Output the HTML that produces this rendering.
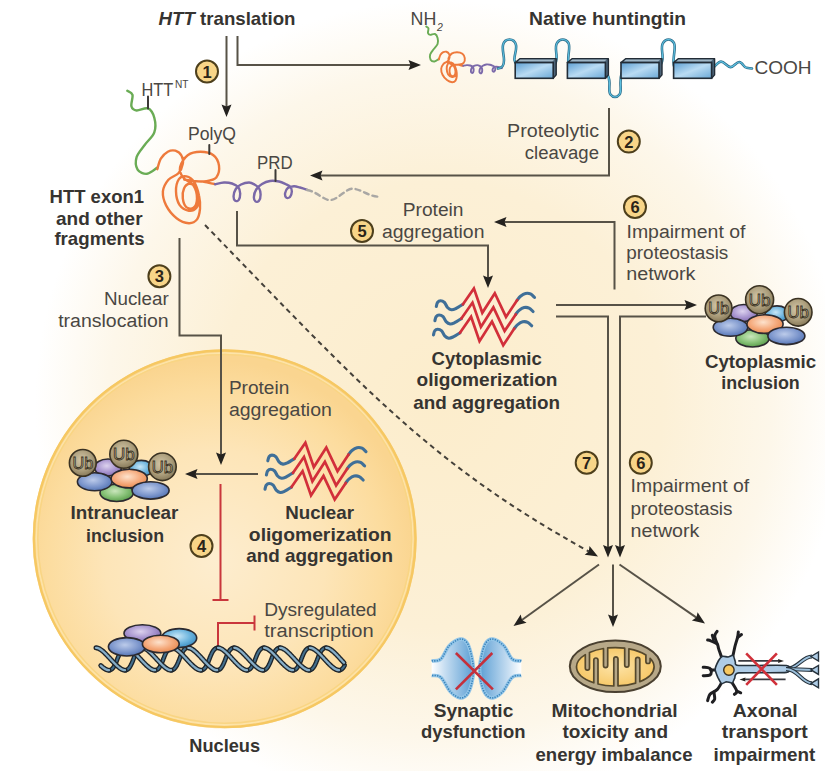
<!DOCTYPE html>
<html><head><meta charset="utf-8">
<style>
html,body{margin:0;padding:0;background:#fff;}
svg{display:block;}
text{font-family:"Liberation Sans",sans-serif;}
.b{font-weight:bold;fill:#363431;font-size:19px;}
.r{fill:#4a4743;font-size:19.2px;}
.num{font-weight:bold;fill:#2a2418;font-size:16.5px;text-anchor:middle;}
</style></head><body>
<svg width="825" height="771" viewBox="0 0 825 771">
<defs>
  <radialGradient id="bg" cx="440" cy="405" r="405" gradientUnits="userSpaceOnUse">
    <stop offset="0" stop-color="#fcedcc"/>
    <stop offset="0.55" stop-color="#fcf0d6"/>
    <stop offset="0.82" stop-color="#fdf7ea"/>
    <stop offset="1" stop-color="#ffffff"/>
  </radialGradient>
  <radialGradient id="nuc" cx="215" cy="560" r="200" gradientUnits="userSpaceOnUse">
    <stop offset="0" stop-color="#fdedcf"/>
    <stop offset="0.55" stop-color="#fde5b8"/>
    <stop offset="0.85" stop-color="#fcdc9e"/>
    <stop offset="1" stop-color="#fad590"/>
  </radialGradient>
</defs>
<rect width="825" height="771" fill="url(#bg)"/>
<ellipse cx="224.7" cy="538.8" rx="192" ry="189.5" fill="url(#nuc)"/>
<ellipse cx="224.7" cy="538.8" rx="190.8" ry="188.3" fill="none" stroke="#f6c862" stroke-width="2.4"/>
<ellipse cx="224.7" cy="538.8" rx="188.3" ry="185.8" fill="none" stroke="#fde4a8" stroke-width="1.3"/>
<ellipse cx="224.7" cy="538.8" rx="186.9" ry="184.4" fill="none" stroke="#f9d584" stroke-width="1.5"/>
<path d="M226.5,36.0 L226.5,107.5" fill="none" stroke="#575247" stroke-width="2"/><path d="M226.5,117.0 L221.5,104.5 L226.5,106.5 L231.5,104.5z" fill="#24221f"/>
<path d="M237.5,36.0 L237.5,65.0 L411.5,65.0" fill="none" stroke="#575247" stroke-width="2"/><path d="M421.0,65.0 L408.5,70.0 L410.5,65.0 L408.5,60.0z" fill="#24221f"/>
<path d="M609.0,108.0 L609.0,175.5 L319.5,175.5" fill="none" stroke="#575247" stroke-width="2"/><path d="M310.0,175.5 L322.5,170.5 L320.5,175.5 L322.5,180.5z" fill="#24221f"/>
<path d="M237.0,211.0 L237.0,245.5 L488.0,245.5 L488.0,278.5" fill="none" stroke="#575247" stroke-width="2"/><path d="M488.0,288.0 L483.0,275.5 L488.0,277.5 L493.0,275.5z" fill="#24221f"/>
<path d="M614.5,289.5 L614.5,222.0 L503.5,222.0" fill="none" stroke="#575247" stroke-width="2"/><path d="M494.0,222.0 L506.5,217.0 L504.5,222.0 L506.5,227.0z" fill="#24221f"/>
<path d="M556.0,305.0 L687.5,305.0" fill="none" stroke="#575247" stroke-width="2"/><path d="M697.0,305.0 L684.5,310.0 L686.5,305.0 L684.5,300.0z" fill="#24221f"/>
<path d="M556.0,316.5 L608.0,316.5 L608.0,548.0" fill="none" stroke="#575247" stroke-width="2"/><path d="M608.0,557.5 L603.0,545.0 L608.0,547.0 L613.0,545.0z" fill="#24221f"/>
<path d="M706.0,316.5 L620.0,316.5 L620.0,548.0" fill="none" stroke="#575247" stroke-width="2"/><path d="M620.0,557.5 L615.0,545.0 L620.0,547.0 L625.0,545.0z" fill="#24221f"/>
<path d="M179.5,238.0 L179.5,335.5 L221.0,335.5 L221.0,455.5" fill="none" stroke="#575247" stroke-width="2"/><path d="M221.0,465.0 L216.0,452.5 L221.0,454.5 L226.0,452.5z" fill="#24221f"/>
<path d="M258.0,474.0 L194.5,474.0" fill="none" stroke="#575247" stroke-width="2"/><path d="M185.0,474.0 L197.5,469.0 L195.5,474.0 L197.5,479.0z" fill="#24221f"/>
<path d="M599.0,564.5 L521.2,620.5" fill="none" stroke="#575247" stroke-width="2"/><path d="M513.5,626.0 L520.7,614.6 L522.0,619.9 L526.6,622.8z" fill="#24221f"/>
<path d="M613.0,564.5 L613.0,617.5" fill="none" stroke="#575247" stroke-width="2"/><path d="M613.0,627.0 L608.0,614.5 L613.0,616.5 L618.0,614.5z" fill="#24221f"/>
<path d="M619.5,564.5 L697.2,618.1" fill="none" stroke="#575247" stroke-width="2"/><path d="M705.0,623.5 L691.9,620.5 L696.4,617.5 L697.6,612.3z" fill="#24221f"/>
<path d="M205,225 C365,389.8 432,465 589,551.5" fill="none" stroke="#45413a" stroke-width="2" stroke-dasharray="5 4"/>
<path d="M598.0,556.5 L584.7,554.8 L588.8,551.4 L589.5,546.0z" fill="#24221f"/>
<g stroke="#c9363c" stroke-width="2" fill="none"><path d="M220.5,484 V600 M212.5,600 H228.5"/><path d="M218,647 V623 H254.5 M254.5,615.5 V630.5"/></g>
<g transform="translate(207,71.5)"><circle r="11" fill="#f8d588" stroke="#4d3f1c" stroke-width="2"/><text class="num" y="6">1</text></g>
<g transform="translate(628.8,141.6)"><circle r="11" fill="#f8d588" stroke="#4d3f1c" stroke-width="2"/><text class="num" y="6">2</text></g>
<g transform="translate(159.4,276.2)"><circle r="11" fill="#f8d588" stroke="#4d3f1c" stroke-width="2"/><text class="num" y="6">3</text></g>
<g transform="translate(201.5,546)"><circle r="11" fill="#f8d588" stroke="#4d3f1c" stroke-width="2"/><text class="num" y="6">4</text></g>
<g transform="translate(362,231)"><circle r="11" fill="#f8d588" stroke="#4d3f1c" stroke-width="2"/><text class="num" y="6">5</text></g>
<g transform="translate(635,207)"><circle r="11" fill="#f8d588" stroke="#4d3f1c" stroke-width="2"/><text class="num" y="6">6</text></g>
<g transform="translate(640.8,462.7)"><circle r="11" fill="#f8d588" stroke="#4d3f1c" stroke-width="2"/><text class="num" y="6">6</text></g>
<g transform="translate(586.7,462.7)"><circle r="11" fill="#f8d588" stroke="#4d3f1c" stroke-width="2"/><text class="num" y="6">7</text></g>
<defs>
<radialGradient id="gPur" cx="0.45" cy="0.4" r="0.6"><stop offset="0" stop-color="#dcd2ee"/><stop offset="0.6" stop-color="#a996d0"/><stop offset="1" stop-color="#8670b4"/></radialGradient>
<radialGradient id="gCy" cx="0.45" cy="0.4" r="0.6"><stop offset="0" stop-color="#c8e6f6"/><stop offset="0.6" stop-color="#6cb4de"/><stop offset="1" stop-color="#3f90c4"/></radialGradient>
<radialGradient id="gOr" cx="0.45" cy="0.4" r="0.6"><stop offset="0" stop-color="#fde2cc"/><stop offset="0.6" stop-color="#f5ab7e"/><stop offset="1" stop-color="#ea8c52"/></radialGradient>
<radialGradient id="gBl" cx="0.45" cy="0.4" r="0.6"><stop offset="0" stop-color="#bccbea"/><stop offset="0.6" stop-color="#8099ce"/><stop offset="1" stop-color="#5676b6"/></radialGradient>
<radialGradient id="gGr" cx="0.45" cy="0.4" r="0.6"><stop offset="0" stop-color="#cae6bc"/><stop offset="0.6" stop-color="#86c176"/><stop offset="1" stop-color="#5c9e4e"/></radialGradient>
<radialGradient id="gUb" cx="0.45" cy="0.4" r="0.6"><stop offset="0" stop-color="#d2c6a8"/><stop offset="0.65" stop-color="#ab9d7b"/><stop offset="1" stop-color="#887a5a"/></radialGradient>
<linearGradient id="gBox" x1="0" y1="0" x2="1" y2="1"><stop offset="0" stop-color="#5d9fd2"/><stop offset="0.5" stop-color="#b9dbf3"/><stop offset="1" stop-color="#6aa8d6"/></linearGradient>
<linearGradient id="gDNA" x1="0" y1="0" x2="0" y2="1"><stop offset="0" stop-color="#9cc4dc"/><stop offset="1" stop-color="#5b8eae"/></linearGradient>
</defs>
<g><ellipse cx="743.8" cy="313.0" rx="13.5" ry="8.5" fill="url(#gPur)" stroke="#2c2a30" stroke-width="1.6"/><ellipse cx="777.0" cy="313.9" rx="12" ry="8" fill="url(#gCy)" stroke="#2c2a30" stroke-width="1.6"/><ellipse cx="752.5" cy="338.3" rx="16.7" ry="8.7" fill="url(#gGr)" stroke="#2c2a30" stroke-width="1.6"/><ellipse cx="730.5" cy="327.3" rx="17.3" ry="9" fill="url(#gBl)" stroke="#2c2a30" stroke-width="1.6"/><ellipse cx="765.0" cy="324.1" rx="18.1" ry="9.3" fill="url(#gOr)" stroke="#2c2a30" stroke-width="1.6"/><ellipse cx="786.4" cy="335.9" rx="18.5" ry="8.7" fill="url(#gBl)" stroke="#2c2a30" stroke-width="1.6"/><circle cx="718.6" cy="308.4" r="13.4" fill="url(#gUb)" stroke="#3a3222" stroke-width="1.6"/><text x="718.6" y="314.2" text-anchor="middle" font-size="16.5" fill="#cdc2a4" stroke="#3a3222" stroke-width="0.85" font-family="Liberation Sans" textLength="20.8" lengthAdjust="spacingAndGlyphs">Ub</text><circle cx="759.6" cy="299.7" r="14" fill="url(#gUb)" stroke="#3a3222" stroke-width="1.6"/><text x="759.6" y="305.5" text-anchor="middle" font-size="16.5" fill="#cdc2a4" stroke="#3a3222" stroke-width="0.85" font-family="Liberation Sans" textLength="21.7" lengthAdjust="spacingAndGlyphs">Ub</text><circle cx="798.2" cy="312.3" r="13.8" fill="url(#gUb)" stroke="#3a3222" stroke-width="1.6"/><text x="798.2" y="318.1" text-anchor="middle" font-size="16.5" fill="#cdc2a4" stroke="#3a3222" stroke-width="0.85" font-family="Liberation Sans" textLength="21.4" lengthAdjust="spacingAndGlyphs">Ub</text></g>
<g><ellipse cx="108.0" cy="467.5" rx="13.5" ry="8.5" fill="url(#gPur)" stroke="#2c2a30" stroke-width="1.6"/><ellipse cx="141.2" cy="468.4" rx="12" ry="8" fill="url(#gCy)" stroke="#2c2a30" stroke-width="1.6"/><ellipse cx="116.7" cy="492.8" rx="16.7" ry="8.7" fill="url(#gGr)" stroke="#2c2a30" stroke-width="1.6"/><ellipse cx="94.7" cy="481.8" rx="17.3" ry="9" fill="url(#gBl)" stroke="#2c2a30" stroke-width="1.6"/><ellipse cx="129.2" cy="478.6" rx="18.1" ry="9.3" fill="url(#gOr)" stroke="#2c2a30" stroke-width="1.6"/><ellipse cx="150.6" cy="490.4" rx="18.5" ry="8.7" fill="url(#gBl)" stroke="#2c2a30" stroke-width="1.6"/><circle cx="82.8" cy="462.9" r="13.4" fill="url(#gUb)" stroke="#3a3222" stroke-width="1.6"/><text x="82.8" y="468.7" text-anchor="middle" font-size="16.5" fill="#cdc2a4" stroke="#3a3222" stroke-width="0.85" font-family="Liberation Sans" textLength="20.8" lengthAdjust="spacingAndGlyphs">Ub</text><circle cx="123.8" cy="454.2" r="14" fill="url(#gUb)" stroke="#3a3222" stroke-width="1.6"/><text x="123.8" y="460.0" text-anchor="middle" font-size="16.5" fill="#cdc2a4" stroke="#3a3222" stroke-width="0.85" font-family="Liberation Sans" textLength="21.7" lengthAdjust="spacingAndGlyphs">Ub</text><circle cx="162.4" cy="466.8" r="13.8" fill="url(#gUb)" stroke="#3a3222" stroke-width="1.6"/><text x="162.4" y="472.6" text-anchor="middle" font-size="16.5" fill="#cdc2a4" stroke="#3a3222" stroke-width="0.85" font-family="Liberation Sans" textLength="21.4" lengthAdjust="spacingAndGlyphs">Ub</text></g>
<g fill="none" stroke-linecap="round" stroke-linejoin="miter"><path d="M436.3,306.5 C436.5,305.8 436.8,303.4 437.5,302.5 C438.2,301.6 439.3,300.8 440.5,300.8 C441.7,300.8 443.3,301.4 444.5,302.5 C445.7,303.6 446.3,306.3 447.5,307.5 C448.7,308.7 450.1,309.6 451.5,309.8 C452.9,310.0 454.1,309.4 456.0,308.5 C457.9,307.6 461.7,305.1 462.8,304.4" stroke="#3f6f98" stroke-width="3.1"/><path d="M517.1,300.2 C517.7,299.5 519.1,297.3 520.5,296.2 C521.9,295.1 523.8,293.8 525.5,293.4 C527.2,293.0 529.0,293.2 530.5,293.9 C532.0,294.6 533.8,296.8 534.5,297.4" stroke="#3f6f98" stroke-width="3.1"/><path d="M462.8,304.4 L473.9,288.4 L482.3,312.8 L494.8,293.2 L506.0,316.9 L517.1,300.2" stroke="#d22f3a" stroke-width="2.7"/><path d="M434.9,320.7 C435.1,320.0 435.4,317.6 436.1,316.7 C436.8,315.8 437.9,315.0 439.1,315.0 C440.3,315.0 441.9,315.6 443.1,316.7 C444.3,317.8 444.9,320.5 446.1,321.7 C447.3,322.9 448.7,323.8 450.1,324.0 C451.5,324.2 452.7,323.6 454.6,322.7 C456.5,321.8 460.3,319.3 461.4,318.6" stroke="#3f6f98" stroke-width="3.1"/><path d="M515.7,314.4 C516.3,313.7 517.7,311.5 519.1,310.4 C520.5,309.3 522.4,308.0 524.1,307.6 C525.8,307.2 527.6,307.4 529.1,308.1 C530.6,308.8 532.4,311.0 533.1,311.6" stroke="#3f6f98" stroke-width="3.1"/><path d="M461.4,318.6 L472.5,302.6 L480.9,327.0 L493.4,307.4 L504.6,331.1 L515.7,314.4" stroke="#d22f3a" stroke-width="2.7"/><path d="M433.5,334.9 C433.7,334.2 434.0,331.8 434.7,330.9 C435.4,329.9 436.5,329.2 437.7,329.2 C438.9,329.2 440.5,329.8 441.7,330.9 C442.9,332.0 443.5,334.7 444.7,335.9 C445.9,337.1 447.3,338.0 448.7,338.2 C450.1,338.4 451.3,337.8 453.2,336.9 C455.1,336.0 458.9,333.5 460.0,332.8" stroke="#3f6f98" stroke-width="3.1"/><path d="M514.3,328.6 C514.9,327.9 516.3,325.7 517.7,324.6 C519.1,323.5 521.0,322.2 522.7,321.8 C524.4,321.4 526.2,321.6 527.7,322.3 C529.2,323.0 531.0,325.2 531.7,325.8" stroke="#3f6f98" stroke-width="3.1"/><path d="M460.0,332.8 L471.1,316.8 L479.5,341.2 L492.0,321.6 L503.2,345.3 L514.3,328.6" stroke="#d22f3a" stroke-width="2.7"/></g>
<g fill="none" stroke-linecap="round" stroke-linejoin="miter"><path d="M267.8,460.8 C268.0,460.1 268.3,457.8 269.0,456.8 C269.7,455.9 270.8,455.1 272.0,455.1 C273.2,455.1 274.8,455.7 276.0,456.8 C277.2,457.9 277.8,460.6 279.0,461.8 C280.2,463.0 281.6,463.9 283.0,464.1 C284.4,464.3 285.6,463.7 287.5,462.8 C289.4,461.9 293.2,459.4 294.3,458.7" stroke="#3f6f98" stroke-width="3.1"/><path d="M348.6,454.5 C349.2,453.8 350.6,451.6 352.0,450.5 C353.4,449.4 355.3,448.1 357.0,447.7 C358.7,447.3 360.5,447.5 362.0,448.2 C363.5,448.9 365.3,451.1 366.0,451.7" stroke="#3f6f98" stroke-width="3.1"/><path d="M294.3,458.7 L305.4,442.7 L313.8,467.1 L326.3,447.5 L337.5,471.2 L348.6,454.5" stroke="#d22f3a" stroke-width="2.7"/><path d="M266.4,475.0 C266.6,474.3 266.9,471.9 267.6,471.0 C268.3,470.1 269.4,469.3 270.6,469.3 C271.8,469.3 273.4,469.9 274.6,471.0 C275.8,472.1 276.4,474.8 277.6,476.0 C278.8,477.2 280.2,478.1 281.6,478.3 C283.0,478.5 284.2,477.9 286.1,477.0 C288.0,476.1 291.8,473.6 292.9,472.9" stroke="#3f6f98" stroke-width="3.1"/><path d="M347.2,468.7 C347.8,468.0 349.2,465.8 350.6,464.7 C352.0,463.6 353.9,462.3 355.6,461.9 C357.3,461.5 359.1,461.7 360.6,462.4 C362.1,463.1 363.9,465.3 364.6,465.9" stroke="#3f6f98" stroke-width="3.1"/><path d="M292.9,472.9 L304.0,456.9 L312.4,481.3 L324.9,461.7 L336.1,485.4 L347.2,468.7" stroke="#d22f3a" stroke-width="2.7"/><path d="M265.0,489.2 C265.2,488.5 265.5,486.2 266.2,485.2 C266.9,484.3 268.0,483.5 269.2,483.5 C270.4,483.5 272.0,484.1 273.2,485.2 C274.4,486.3 275.0,489.0 276.2,490.2 C277.4,491.4 278.8,492.3 280.2,492.5 C281.6,492.7 282.8,492.1 284.7,491.2 C286.6,490.3 290.4,487.8 291.5,487.1" stroke="#3f6f98" stroke-width="3.1"/><path d="M345.8,482.9 C346.4,482.2 347.8,480.0 349.2,478.9 C350.6,477.8 352.5,476.5 354.2,476.1 C355.9,475.7 357.7,475.9 359.2,476.6 C360.7,477.3 362.5,479.5 363.2,480.1" stroke="#3f6f98" stroke-width="3.1"/><path d="M291.5,487.1 L302.6,471.1 L311.0,495.5 L323.5,475.9 L334.7,499.6 L345.8,482.9" stroke="#d22f3a" stroke-width="2.7"/></g>
<g fill="none" stroke-linecap="round" stroke-linejoin="round">
<path d="M127.3,90.8 C128.2,91.5 131.8,92.3 132.5,94.9 C133.2,97.5 130.7,103.7 131.4,106.3 C132.1,108.9 133.8,110.2 136.6,110.5 C139.4,110.8 145.1,107.2 148.0,108.4 C150.9,109.6 153.2,113.7 154.3,117.7 C155.4,121.7 155.9,127.8 154.3,132.3 C152.7,136.8 147.9,140.5 144.9,144.7 C141.9,148.8 137.8,153.0 136.6,157.2 C135.4,161.3 135.9,166.8 137.6,169.6 C139.3,172.4 143.7,174.1 147.0,173.8 C150.3,173.5 155.7,168.6 157.4,167.6" stroke="#6aac55" stroke-width="2.4"/>
<path d="M157.3,169.2 C157.9,167.4 159.1,161.6 160.8,158.7 C162.6,155.8 165.4,153.0 167.8,151.7 C170.3,150.4 173.1,150.1 175.4,150.7 C177.7,151.4 180.4,153.6 181.6,155.8 C182.9,158.0 183.3,161.0 182.8,163.9 C182.3,166.9 180.8,170.7 178.4,173.3 C176.0,175.9 171.0,176.7 168.4,179.7 C165.9,182.7 163.3,187.1 162.9,191.4 C162.6,195.7 163.8,200.9 166.1,205.4 C168.4,209.9 172.8,215.3 176.6,218.2 C180.4,221.2 185.5,223.0 188.9,223.2 C192.3,223.3 195.2,221.8 197.0,219.4 C198.9,217.0 199.6,212.8 200.0,208.9 C200.3,205.0 200.1,200.5 199.1,196.1 C198.2,191.6 196.2,185.3 194.1,182.0 C192.0,178.8 189.1,176.9 186.5,176.4 C184.0,176.0 180.7,176.6 178.9,179.1 C177.2,181.6 175.9,187.1 176.0,191.4 C176.1,195.7 177.4,201.6 179.5,204.8 C181.7,208.0 186.0,210.2 188.9,210.7 C191.7,211.1 194.7,209.8 196.5,207.7 C198.2,205.7 199.2,201.8 199.1,198.4 C199.0,195.0 197.5,189.7 195.9,187.3 C194.3,184.9 191.4,183.6 189.5,183.8 C187.5,184.0 185.1,186.0 184.0,188.5 C182.9,190.9 182.4,195.3 182.8,198.4 C183.2,201.5 184.5,205.6 186.3,207.2 C188.1,208.7 191.7,209.2 193.5,207.7 C195.3,206.3 197.0,202.1 197.0,198.4 C197.0,194.7 195.9,189.1 193.5,185.5 C191.2,182.0 185.3,180.5 183.0,177.4 C180.8,174.3 179.3,170.6 180.1,166.9 C180.9,163.2 184.3,157.7 187.7,155.2 C191.1,152.7 196.3,151.7 200.5,151.7 C204.8,151.7 210.3,152.8 213.4,155.2 C216.5,157.5 218.5,162.0 219.0,165.7 C219.5,169.4 218.4,174.8 216.3,177.4 C214.2,179.9 210.2,180.5 206.4,181.1 C202.6,181.7 197.2,181.4 193.5,181.1 C189.8,180.8 184.2,179.5 184.2,179.5 C184.2,179.4 190.0,180.4 193.5,180.9 C197.0,181.3 202.3,181.6 205.2,182.0 C208.1,182.5 209.4,183.1 211.1,183.4 C212.7,183.8 214.5,184.0 215.1,184.1" stroke="#ee7a3c" stroke-width="2.4"/>
<path d="M215.2,184.2 C216.7,183.9 221.2,182.6 224.0,182.5 C226.8,182.4 229.6,182.7 232.0,183.5 C234.4,184.3 237.1,185.8 238.5,187.5 C239.9,189.2 240.1,191.4 240.2,193.5 C240.2,195.6 239.6,198.6 238.8,199.8 C238.0,201.0 236.1,201.4 235.2,200.8 C234.3,200.2 233.5,198.0 233.6,196.0 C233.7,194.0 234.6,190.9 235.8,189.0 C237.0,187.1 238.8,185.6 241.0,184.5 C243.2,183.4 246.8,182.5 249.0,182.5 C251.2,182.5 252.8,183.5 254.5,184.5 C256.2,185.5 258.2,186.8 259.2,188.5 C260.2,190.2 260.6,192.4 260.6,194.5 C260.6,196.6 259.9,199.7 259.0,200.8 C258.1,202.0 256.2,202.0 255.4,201.4 C254.6,200.8 253.8,199.0 253.9,197.0 C254.0,195.0 254.8,191.7 256.2,189.5 C257.6,187.3 259.7,185.4 262.0,184.0 C264.3,182.6 267.2,181.4 270.0,181.0 C272.8,180.6 276.4,181.0 279.0,181.5 C281.6,182.0 283.6,183.1 285.5,184.0 C287.4,184.9 289.4,185.7 290.5,187.0 C291.6,188.3 291.9,190.1 291.8,191.8 C291.7,193.5 290.9,196.0 290.0,197.0 C289.1,198.0 287.1,198.2 286.3,197.6 C285.5,197.0 284.9,194.8 285.1,193.2 C285.4,191.6 286.3,189.2 287.8,188.0 C289.3,186.8 292.0,186.3 294.0,186.2 C296.0,186.1 297.8,186.9 300.0,187.5 C302.2,188.1 306.1,189.4 307.3,189.8" stroke="#7a68a8" stroke-width="2.4"/>
<path d="M307,190 C318,192 324,201 331,200 C338,199 346,189 352,188.7 C360,188.5 368,196 378,196.7" stroke="#a9a7a4" stroke-width="2.4" stroke-dasharray="5 4"/>
<path d="M148,96.5 V108.5 M209.3,145 V154 M275.5,170 V181" stroke="#3c3a37" stroke-width="2"/>
</g>
<g transform="translate(372.78,-11.54) scale(0.42)" fill="none" stroke-linecap="round" stroke-linejoin="round">
<path d="M127.3,90.8 C128.2,91.5 131.8,92.3 132.5,94.9 C133.2,97.5 130.7,103.7 131.4,106.3 C132.1,108.9 133.8,110.2 136.6,110.5 C139.4,110.8 145.1,107.2 148.0,108.4 C150.9,109.6 153.2,113.7 154.3,117.7 C155.4,121.7 155.9,127.8 154.3,132.3 C152.7,136.8 147.9,140.5 144.9,144.7 C141.9,148.8 137.8,153.0 136.6,157.2 C135.4,161.3 135.9,166.8 137.6,169.6 C139.3,172.4 143.7,174.1 147.0,173.8 C150.3,173.5 155.7,168.6 157.4,167.6" stroke="#6aac55" stroke-width="4.6"/>
<path d="M157.3,169.2 C157.9,167.4 159.1,161.6 160.8,158.7 C162.6,155.8 165.4,153.0 167.8,151.7 C170.3,150.4 173.1,150.1 175.4,150.7 C177.7,151.4 180.4,153.6 181.6,155.8 C182.9,158.0 183.3,161.0 182.8,163.9 C182.3,166.9 180.8,170.7 178.4,173.3 C176.0,175.9 171.0,176.7 168.4,179.7 C165.9,182.7 163.3,187.1 162.9,191.4 C162.6,195.7 163.8,200.9 166.1,205.4 C168.4,209.9 172.8,215.3 176.6,218.2 C180.4,221.2 185.5,223.0 188.9,223.2 C192.3,223.3 195.2,221.8 197.0,219.4 C198.9,217.0 199.6,212.8 200.0,208.9 C200.3,205.0 200.1,200.5 199.1,196.1 C198.2,191.6 196.2,185.3 194.1,182.0 C192.0,178.8 189.1,176.9 186.5,176.4 C184.0,176.0 180.7,176.6 178.9,179.1 C177.2,181.6 175.9,187.1 176.0,191.4 C176.1,195.7 177.4,201.6 179.5,204.8 C181.7,208.0 186.0,210.2 188.9,210.7 C191.7,211.1 194.7,209.8 196.5,207.7 C198.2,205.7 199.2,201.8 199.1,198.4 C199.0,195.0 197.5,189.7 195.9,187.3 C194.3,184.9 191.4,183.6 189.5,183.8 C187.5,184.0 185.1,186.0 184.0,188.5 C182.9,190.9 182.4,195.3 182.8,198.4 C183.2,201.5 184.5,205.6 186.3,207.2 C188.1,208.7 191.7,209.2 193.5,207.7 C195.3,206.3 197.0,202.1 197.0,198.4 C197.0,194.7 195.9,189.1 193.5,185.5 C191.2,182.0 185.3,180.5 183.0,177.4 C180.8,174.3 179.3,170.6 180.1,166.9 C180.9,163.2 184.3,157.7 187.7,155.2 C191.1,152.7 196.3,151.7 200.5,151.7 C204.8,151.7 210.3,152.8 213.4,155.2 C216.5,157.5 218.5,162.0 219.0,165.7 C219.5,169.4 218.4,174.8 216.3,177.4 C214.2,179.9 210.2,180.5 206.4,181.1 C202.6,181.7 197.2,181.4 193.5,181.1 C189.8,180.8 184.2,179.5 184.2,179.5 C184.2,179.4 190.0,180.4 193.5,180.9 C197.0,181.3 202.3,181.6 205.2,182.0 C208.1,182.5 209.4,183.1 211.1,183.4 C212.7,183.8 214.5,184.0 215.1,184.1" stroke="#ee7a3c" stroke-width="4.6"/>
<path d="M215.2,184.2 C216.7,183.9 221.2,182.6 224.0,182.5 C226.8,182.4 229.6,182.7 232.0,183.5 C234.4,184.3 237.1,185.8 238.5,187.5 C239.9,189.2 240.1,191.4 240.2,193.5 C240.2,195.6 239.6,198.6 238.8,199.8 C238.0,201.0 236.1,201.4 235.2,200.8 C234.3,200.2 233.5,198.0 233.6,196.0 C233.7,194.0 234.6,190.9 235.8,189.0 C237.0,187.1 238.8,185.6 241.0,184.5 C243.2,183.4 246.8,182.5 249.0,182.5 C251.2,182.5 252.8,183.5 254.5,184.5 C256.2,185.5 258.2,186.8 259.2,188.5 C260.2,190.2 260.6,192.4 260.6,194.5 C260.6,196.6 259.9,199.7 259.0,200.8 C258.1,202.0 256.2,202.0 255.4,201.4 C254.6,200.8 253.8,199.0 253.9,197.0 C254.0,195.0 254.8,191.7 256.2,189.5 C257.6,187.3 259.7,185.4 262.0,184.0 C264.3,182.6 267.2,181.4 270.0,181.0 C272.8,180.6 276.4,181.0 279.0,181.5 C281.6,182.0 283.6,183.1 285.5,184.0 C287.4,184.9 289.4,185.7 290.5,187.0 C291.6,188.3 291.9,190.1 291.8,191.8 C291.7,193.5 290.9,196.0 290.0,197.0 C289.1,198.0 287.1,198.2 286.3,197.6 C285.5,197.0 284.9,194.8 285.1,193.2 C285.4,191.6 286.3,189.2 287.8,188.0 C289.3,186.8 292.0,186.3 294.0,186.2 C296.0,186.1 297.8,186.9 300.0,187.5 C302.2,188.1 306.1,189.4 307.3,189.8" stroke="#7c6aaa" stroke-width="4.6"/>
</g>
<g fill="none" stroke-linecap="round">
<path d="M498,68.5 C503,68 504,65 504,60 C504,55 502,50 503,45 C504,41 507,39.5 509.5,39.5 C512,39.5 515,41 516,45 C517,50 514,55 514.5,60 C515,63 516,64 517,65" stroke="#2f6f8c" stroke-width="2.6"/>
<path d="M498,68.5 C503,68 504,65 504,60 C504,55 502,50 503,45 C504,41 507,39.5 509.5,39.5 C512,39.5 515,41 516,45 C517,50 514,55 514.5,60 C515,63 516,64 517,65" stroke="#5cc0e0" stroke-width="1.1"/>
<path d="M553,67 C556,64 557,60 556.5,55 C556,50 555,46 557,43 C558.5,40.5 560.5,39.5 562.7,39.5 C565,39.5 567,40.5 568.5,43 C570,46 569,50 568.5,55 C568,60 568,63 569,66" stroke="#2f6f8c" stroke-width="2.6"/>
<path d="M553,67 C556,64 557,60 556.5,55 C556,50 555,46 557,43 C558.5,40.5 560.5,39.5 562.7,39.5 C565,39.5 567,40.5 568.5,43 C570,46 569,50 568.5,55 C568,60 568,63 569,66" stroke="#5cc0e0" stroke-width="1.1"/>
<path d="M606,72 C608,75 609.5,78 609.5,83 C609.5,88 608.5,92 610.5,94.5 C612,96.5 613.5,97 615,97 C616.5,97 618,96.5 619.5,94.5 C621.5,92 620.5,88 620.5,83 C620.5,78 621,75 622,72" stroke="#2f6f8c" stroke-width="2.6"/>
<path d="M606,72 C608,75 609.5,78 609.5,83 C609.5,88 608.5,92 610.5,94.5 C612,96.5 613.5,97 615,97 C616.5,97 618,96.5 619.5,94.5 C621.5,92 620.5,88 620.5,83 C620.5,78 621,75 622,72" stroke="#5cc0e0" stroke-width="1.1"/>
<path d="M659,67 C662,64 663,60 662.5,55 C662,50 661,46 663,43 C664.5,40.5 666.5,39.5 668.5,39.5 C670.5,39.5 672.5,40.5 674,43 C675.5,46 674.5,50 674,55 C673.5,60 673,63 674,66" stroke="#2f6f8c" stroke-width="2.6"/>
<path d="M659,67 C662,64 663,60 662.5,55 C662,50 661,46 663,43 C664.5,40.5 666.5,39.5 668.5,39.5 C670.5,39.5 672.5,40.5 674,43 C675.5,46 674.5,50 674,55 C673.5,60 673,63 674,66" stroke="#5cc0e0" stroke-width="1.1"/>
<path d="M714,67 C717,64 718.5,61.6 721.1,61.6 C724.5,61.6 727,67.1 730.5,67.1 C734,67.1 736,62 739.3,62 C742.5,62 744,67.8 746.5,67.8 C748.5,68.2 750,68.5 752,68.5" stroke="#2f6f8c" stroke-width="2.6"/>
<path d="M714,67 C717,64 718.5,61.6 721.1,61.6 C724.5,61.6 727,67.1 730.5,67.1 C734,67.1 736,62 739.3,62 C742.5,62 744,67.8 746.5,67.8 C748.5,68.2 750,68.5 752,68.5" stroke="#5cc0e0" stroke-width="1.1"/>
</g>
<path d="M515.2,62.6 L519.8000000000001,58.800000000000004 L556.2,58.800000000000004 L556.2,74.89999999999999 L553.2,78.3 z" fill="#4c6478" stroke="#222c36" stroke-width="1.4" stroke-linejoin="round"/><path d="M517.7,61.4 L520.2,59.6 L554.7,59.6 L552.2,61.4 z" fill="#9fb6c6"/><rect x="515.2" y="62.6" width="38.0" height="15.699999999999996" fill="url(#gBox)" stroke="#222c36" stroke-width="1.6"/>
<path d="M567.4,62.6 L572.0,58.800000000000004 L608.4,58.800000000000004 L608.4,74.89999999999999 L605.4,78.3 z" fill="#4c6478" stroke="#222c36" stroke-width="1.4" stroke-linejoin="round"/><path d="M569.9,61.4 L572.4,59.6 L606.9,59.6 L604.4,61.4 z" fill="#9fb6c6"/><rect x="567.4" y="62.6" width="38.0" height="15.699999999999996" fill="url(#gBox)" stroke="#222c36" stroke-width="1.6"/>
<path d="M621,62.6 L625.6,58.800000000000004 L662,58.800000000000004 L662,74.89999999999999 L659,78.3 z" fill="#4c6478" stroke="#222c36" stroke-width="1.4" stroke-linejoin="round"/><path d="M623.5,61.4 L626,59.6 L660.5,59.6 L658,61.4 z" fill="#9fb6c6"/><rect x="621" y="62.6" width="38" height="15.699999999999996" fill="url(#gBox)" stroke="#222c36" stroke-width="1.6"/>
<path d="M673.6,62.6 L678.2,58.800000000000004 L714.6,58.800000000000004 L714.6,74.89999999999999 L711.6,78.3 z" fill="#4c6478" stroke="#222c36" stroke-width="1.4" stroke-linejoin="round"/><path d="M676.1,61.4 L678.6,59.6 L713.1,59.6 L710.6,61.4 z" fill="#9fb6c6"/><rect x="673.6" y="62.6" width="38.0" height="15.699999999999996" fill="url(#gBox)" stroke="#222c36" stroke-width="1.6"/>
<g fill="none" stroke-linecap="round" stroke-linejoin="round"><path d="M125.0,670.2 L125.3,670.2 L125.6,670.2 L125.8,670.1 L126.1,670.1 L126.3,670.0 L126.6,669.9 L126.8,669.8 L127.1,669.7 L127.3,669.6 L127.5,669.4 L127.8,669.3 L128.0,669.1 L128.2,668.9 L128.4,668.7 L128.7,668.5 L128.9,668.3 L129.1,668.0 L129.3,667.8 L129.5,667.5 L129.7,667.2 L129.9,666.9 L130.1,666.6 L130.2,666.3 L130.4,666.0 L130.6,665.7 L130.8,665.3 L131.0,665.0 L131.1,664.6 L131.3,664.3 L131.5,663.9 L131.7,663.5 L131.8,663.2 L132.0,662.8 L132.2,662.4 L132.3,662.0 L132.5,661.6 L132.7,661.2 L132.8,660.8 L133.0,660.3 L133.1,659.9 L133.3,659.5 L133.5,659.1 L133.6,658.7 L133.8,658.3 L133.9,657.9 L134.1,657.5 L134.3,657.0 L134.4,656.6 L134.6,656.2 L134.8,655.8 L134.9,655.4 L135.1,655.0 L135.3,654.7 L135.4,654.3 L135.6,653.9 L135.8,653.5 L135.9,653.2 L136.1,652.8 L136.3,652.5 L136.5,652.2 L136.7,651.8 L136.9,651.5 L137.0,651.2 L137.2,650.9 L137.4,650.6 L137.6,650.4 L137.8,650.1 L138.0,649.9 L138.2,649.6 L138.5,649.4 L138.7,649.2 L138.9,649.0 L139.1,648.8 L139.3,648.7 L139.6,648.5 L139.8,648.4 L140.0,648.2 L140.3,648.1 L140.5,648.0 L140.8,648.0 L141.0,647.9 L141.3,647.9 L141.6,647.8 L141.8,647.8 L142.1,647.8" stroke="#1e252b" stroke-width="4.6"/><path d="M125.0,670.2 L125.3,670.2 L125.6,670.2 L125.8,670.1 L126.1,670.1 L126.3,670.0 L126.6,669.9 L126.8,669.8 L127.1,669.7 L127.3,669.6 L127.5,669.4 L127.8,669.3 L128.0,669.1 L128.2,668.9 L128.4,668.7 L128.7,668.5 L128.9,668.3 L129.1,668.0 L129.3,667.8 L129.5,667.5 L129.7,667.2 L129.9,666.9 L130.1,666.6 L130.2,666.3 L130.4,666.0 L130.6,665.7 L130.8,665.3 L131.0,665.0 L131.1,664.6 L131.3,664.3 L131.5,663.9 L131.7,663.5 L131.8,663.2 L132.0,662.8 L132.2,662.4 L132.3,662.0 L132.5,661.6 L132.7,661.2 L132.8,660.8 L133.0,660.3 L133.1,659.9 L133.3,659.5 L133.5,659.1 L133.6,658.7 L133.8,658.3 L133.9,657.9 L134.1,657.5 L134.3,657.0 L134.4,656.6 L134.6,656.2 L134.8,655.8 L134.9,655.4 L135.1,655.0 L135.3,654.7 L135.4,654.3 L135.6,653.9 L135.8,653.5 L135.9,653.2 L136.1,652.8 L136.3,652.5 L136.5,652.2 L136.7,651.8 L136.9,651.5 L137.0,651.2 L137.2,650.9 L137.4,650.6 L137.6,650.4 L137.8,650.1 L138.0,649.9 L138.2,649.6 L138.5,649.4 L138.7,649.2 L138.9,649.0 L139.1,648.8 L139.3,648.7 L139.6,648.5 L139.8,648.4 L140.0,648.2 L140.3,648.1 L140.5,648.0 L140.8,648.0 L141.0,647.9 L141.3,647.9 L141.6,647.8 L141.8,647.8 L142.1,647.8" stroke="#44708e" stroke-width="2"/><path d="M171.1,670.2 L171.4,670.2 L171.7,670.2 L171.9,670.1 L172.2,670.0 L172.4,670.0 L172.7,669.9 L172.9,669.8 L173.2,669.7 L173.4,669.5 L173.6,669.4 L173.8,669.2 L174.1,669.0 L174.3,668.8 L174.5,668.6 L174.7,668.4 L174.9,668.2 L175.1,667.9 L175.3,667.7 L175.5,667.4 L175.7,667.1 L175.9,666.8 L176.1,666.5 L176.3,666.2 L176.5,665.9 L176.7,665.6 L176.9,665.2 L177.0,664.9 L177.2,664.5 L177.4,664.2 L177.5,663.8 L177.7,663.4 L177.9,663.0 L178.1,662.6 L178.2,662.2 L178.4,661.8 L178.5,661.4 L178.7,661.0 L178.9,660.6 L179.0,660.2 L179.2,659.8 L179.4,659.4 L179.5,659.0 L179.7,658.6 L179.8,658.1 L180.0,657.7 L180.2,657.3 L180.3,656.9 L180.5,656.5 L180.6,656.1 L180.8,655.7 L181.0,655.3 L181.1,654.9 L181.3,654.5 L181.5,654.2 L181.6,653.8 L181.8,653.4 L182.0,653.1 L182.2,652.7 L182.4,652.4 L182.5,652.1 L182.7,651.7 L182.9,651.4 L183.1,651.1 L183.3,650.8 L183.5,650.6 L183.7,650.3 L183.9,650.0 L184.1,649.8 L184.3,649.6 L184.5,649.3 L184.7,649.1 L185.0,648.9 L185.2,648.8 L185.4,648.6 L185.6,648.5 L185.9,648.3 L186.1,648.2 L186.4,648.1 L186.6,648.0 L186.9,647.9 L187.1,647.9 L187.4,647.8 L187.6,647.8 L187.9,647.8 L188.2,647.8" stroke="#1e252b" stroke-width="4.6"/><path d="M171.1,670.2 L171.4,670.2 L171.7,670.2 L171.9,670.1 L172.2,670.0 L172.4,670.0 L172.7,669.9 L172.9,669.8 L173.2,669.7 L173.4,669.5 L173.6,669.4 L173.8,669.2 L174.1,669.0 L174.3,668.8 L174.5,668.6 L174.7,668.4 L174.9,668.2 L175.1,667.9 L175.3,667.7 L175.5,667.4 L175.7,667.1 L175.9,666.8 L176.1,666.5 L176.3,666.2 L176.5,665.9 L176.7,665.6 L176.9,665.2 L177.0,664.9 L177.2,664.5 L177.4,664.2 L177.5,663.8 L177.7,663.4 L177.9,663.0 L178.1,662.6 L178.2,662.2 L178.4,661.8 L178.5,661.4 L178.7,661.0 L178.9,660.6 L179.0,660.2 L179.2,659.8 L179.4,659.4 L179.5,659.0 L179.7,658.6 L179.8,658.1 L180.0,657.7 L180.2,657.3 L180.3,656.9 L180.5,656.5 L180.6,656.1 L180.8,655.7 L181.0,655.3 L181.1,654.9 L181.3,654.5 L181.5,654.2 L181.6,653.8 L181.8,653.4 L182.0,653.1 L182.2,652.7 L182.4,652.4 L182.5,652.1 L182.7,651.7 L182.9,651.4 L183.1,651.1 L183.3,650.8 L183.5,650.6 L183.7,650.3 L183.9,650.0 L184.1,649.8 L184.3,649.6 L184.5,649.3 L184.7,649.1 L185.0,648.9 L185.2,648.8 L185.4,648.6 L185.6,648.5 L185.9,648.3 L186.1,648.2 L186.4,648.1 L186.6,648.0 L186.9,647.9 L187.1,647.9 L187.4,647.8 L187.6,647.8 L187.9,647.8 L188.2,647.8" stroke="#44708e" stroke-width="2"/><path d="M217.2,670.2 L217.5,670.2 L217.7,670.1 L218.0,670.1 L218.3,670.0 L218.5,669.9 L218.8,669.8 L219.0,669.7 L219.2,669.6 L219.5,669.5 L219.7,669.3 L219.9,669.1 L220.1,669.0 L220.4,668.8 L220.6,668.6 L220.8,668.3 L221.0,668.1 L221.2,667.8 L221.4,667.6 L221.6,667.3 L221.8,667.0 L222.0,666.7 L222.2,666.4 L222.4,666.1 L222.5,665.8 L222.7,665.5 L222.9,665.1 L223.1,664.8 L223.3,664.4 L223.4,664.0 L223.6,663.7 L223.8,663.3 L223.9,662.9 L224.1,662.5 L224.3,662.1 L224.4,661.7 L224.6,661.3 L224.8,660.9 L224.9,660.5 L225.1,660.1 L225.2,659.7 L225.4,659.2 L225.6,658.8 L225.7,658.4 L225.9,658.0 L226.0,657.6 L226.2,657.2 L226.4,656.8 L226.5,656.4 L226.7,656.0 L226.9,655.6 L227.0,655.2 L227.2,654.8 L227.4,654.4 L227.5,654.0 L227.7,653.7 L227.9,653.3 L228.1,653.0 L228.2,652.6 L228.4,652.3 L228.6,651.9 L228.8,651.6 L229.0,651.3 L229.2,651.0 L229.4,650.7 L229.6,650.5 L229.8,650.2 L230.0,650.0 L230.2,649.7 L230.4,649.5 L230.6,649.3 L230.8,649.1 L231.0,648.9 L231.3,648.7 L231.5,648.6 L231.7,648.4 L232.0,648.3 L232.2,648.2 L232.4,648.1 L232.7,648.0 L232.9,647.9 L233.2,647.9 L233.5,647.8 L233.7,647.8 L234.0,647.8 L234.3,647.8" stroke="#1e252b" stroke-width="4.6"/><path d="M217.2,670.2 L217.5,670.2 L217.7,670.1 L218.0,670.1 L218.3,670.0 L218.5,669.9 L218.8,669.8 L219.0,669.7 L219.2,669.6 L219.5,669.5 L219.7,669.3 L219.9,669.1 L220.1,669.0 L220.4,668.8 L220.6,668.6 L220.8,668.3 L221.0,668.1 L221.2,667.8 L221.4,667.6 L221.6,667.3 L221.8,667.0 L222.0,666.7 L222.2,666.4 L222.4,666.1 L222.5,665.8 L222.7,665.5 L222.9,665.1 L223.1,664.8 L223.3,664.4 L223.4,664.0 L223.6,663.7 L223.8,663.3 L223.9,662.9 L224.1,662.5 L224.3,662.1 L224.4,661.7 L224.6,661.3 L224.8,660.9 L224.9,660.5 L225.1,660.1 L225.2,659.7 L225.4,659.2 L225.6,658.8 L225.7,658.4 L225.9,658.0 L226.0,657.6 L226.2,657.2 L226.4,656.8 L226.5,656.4 L226.7,656.0 L226.9,655.6 L227.0,655.2 L227.2,654.8 L227.4,654.4 L227.5,654.0 L227.7,653.7 L227.9,653.3 L228.1,653.0 L228.2,652.6 L228.4,652.3 L228.6,651.9 L228.8,651.6 L229.0,651.3 L229.2,651.0 L229.4,650.7 L229.6,650.5 L229.8,650.2 L230.0,650.0 L230.2,649.7 L230.4,649.5 L230.6,649.3 L230.8,649.1 L231.0,648.9 L231.3,648.7 L231.5,648.6 L231.7,648.4 L232.0,648.3 L232.2,648.2 L232.4,648.1 L232.7,648.0 L232.9,647.9 L233.2,647.9 L233.5,647.8 L233.7,647.8 L234.0,647.8 L234.3,647.8" stroke="#44708e" stroke-width="2"/><path d="M263.0,670.2 L263.3,670.2 L263.6,670.2 L263.8,670.1 L264.1,670.1 L264.3,670.0 L264.6,669.9 L264.8,669.8 L265.1,669.7 L265.3,669.6 L265.5,669.4 L265.8,669.3 L266.0,669.1 L266.2,668.9 L266.4,668.7 L266.6,668.5 L266.9,668.3 L267.1,668.0 L267.3,667.8 L267.5,667.5 L267.7,667.2 L267.9,666.9 L268.1,666.6 L268.2,666.3 L268.4,666.0 L268.6,665.7 L268.8,665.3 L269.0,665.0 L269.1,664.6 L269.3,664.3 L269.5,663.9 L269.7,663.5 L269.8,663.2 L270.0,662.8 L270.2,662.4 L270.3,662.0 L270.5,661.6 L270.7,661.2 L270.8,660.8 L271.0,660.4 L271.1,659.9 L271.3,659.5 L271.5,659.1 L271.6,658.7 L271.8,658.3 L271.9,657.9 L272.1,657.5 L272.3,657.0 L272.4,656.6 L272.6,656.2 L272.7,655.8 L272.9,655.4 L273.1,655.1 L273.2,654.7 L273.4,654.3 L273.6,653.9 L273.8,653.5 L273.9,653.2 L274.1,652.8 L274.3,652.5 L274.5,652.2 L274.7,651.8 L274.8,651.5 L275.0,651.2 L275.2,650.9 L275.4,650.6 L275.6,650.4 L275.8,650.1 L276.0,649.9 L276.2,649.6 L276.5,649.4 L276.7,649.2 L276.9,649.0 L277.1,648.8 L277.3,648.7 L277.6,648.5 L277.8,648.4 L278.0,648.3 L278.3,648.1 L278.5,648.0 L278.8,648.0 L279.0,647.9 L279.3,647.9 L279.5,647.8 L279.8,647.8 L280.1,647.8" stroke="#1e252b" stroke-width="4.6"/><path d="M263.0,670.2 L263.3,670.2 L263.6,670.2 L263.8,670.1 L264.1,670.1 L264.3,670.0 L264.6,669.9 L264.8,669.8 L265.1,669.7 L265.3,669.6 L265.5,669.4 L265.8,669.3 L266.0,669.1 L266.2,668.9 L266.4,668.7 L266.6,668.5 L266.9,668.3 L267.1,668.0 L267.3,667.8 L267.5,667.5 L267.7,667.2 L267.9,666.9 L268.1,666.6 L268.2,666.3 L268.4,666.0 L268.6,665.7 L268.8,665.3 L269.0,665.0 L269.1,664.6 L269.3,664.3 L269.5,663.9 L269.7,663.5 L269.8,663.2 L270.0,662.8 L270.2,662.4 L270.3,662.0 L270.5,661.6 L270.7,661.2 L270.8,660.8 L271.0,660.4 L271.1,659.9 L271.3,659.5 L271.5,659.1 L271.6,658.7 L271.8,658.3 L271.9,657.9 L272.1,657.5 L272.3,657.0 L272.4,656.6 L272.6,656.2 L272.7,655.8 L272.9,655.4 L273.1,655.1 L273.2,654.7 L273.4,654.3 L273.6,653.9 L273.8,653.5 L273.9,653.2 L274.1,652.8 L274.3,652.5 L274.5,652.2 L274.7,651.8 L274.8,651.5 L275.0,651.2 L275.2,650.9 L275.4,650.6 L275.6,650.4 L275.8,650.1 L276.0,649.9 L276.2,649.6 L276.5,649.4 L276.7,649.2 L276.9,649.0 L277.1,648.8 L277.3,648.7 L277.6,648.5 L277.8,648.4 L278.0,648.3 L278.3,648.1 L278.5,648.0 L278.8,648.0 L279.0,647.9 L279.3,647.9 L279.5,647.8 L279.8,647.8 L280.1,647.8" stroke="#44708e" stroke-width="2"/><path d="M309.1,670.2 L309.4,670.2 L309.7,670.2 L309.9,670.1 L310.2,670.0 L310.4,670.0 L310.7,669.9 L310.9,669.8 L311.2,669.7 L311.4,669.5 L311.6,669.4 L311.8,669.2 L312.1,669.0 L312.3,668.8 L312.5,668.6 L312.7,668.4 L312.9,668.2 L313.1,667.9 L313.3,667.7 L313.5,667.4 L313.7,667.1 L313.9,666.8 L314.1,666.5 L314.3,666.2 L314.5,665.9 L314.7,665.6 L314.8,665.2 L315.0,664.9 L315.2,664.5 L315.4,664.2 L315.5,663.8 L315.7,663.4 L315.9,663.0 L316.1,662.6 L316.2,662.2 L316.4,661.8 L316.5,661.4 L316.7,661.0 L316.9,660.6 L317.0,660.2 L317.2,659.8 L317.3,659.4 L317.5,659.0 L317.7,658.6 L317.8,658.1 L318.0,657.7 L318.2,657.3 L318.3,656.9 L318.5,656.5 L318.6,656.1 L318.8,655.7 L319.0,655.3 L319.1,654.9 L319.3,654.5 L319.5,654.2 L319.6,653.8 L319.8,653.4 L320.0,653.1 L320.2,652.7 L320.4,652.4 L320.5,652.1 L320.7,651.7 L320.9,651.4 L321.1,651.1 L321.3,650.8 L321.5,650.6 L321.7,650.3 L321.9,650.0 L322.1,649.8 L322.3,649.6 L322.5,649.3 L322.7,649.1 L323.0,649.0 L323.2,648.8 L323.4,648.6 L323.6,648.5 L323.9,648.3 L324.1,648.2 L324.4,648.1 L324.6,648.0 L324.9,647.9 L325.1,647.9 L325.4,647.8 L325.6,647.8 L325.9,647.8 L326.2,647.8" stroke="#1e252b" stroke-width="4.6"/><path d="M309.1,670.2 L309.4,670.2 L309.7,670.2 L309.9,670.1 L310.2,670.0 L310.4,670.0 L310.7,669.9 L310.9,669.8 L311.2,669.7 L311.4,669.5 L311.6,669.4 L311.8,669.2 L312.1,669.0 L312.3,668.8 L312.5,668.6 L312.7,668.4 L312.9,668.2 L313.1,667.9 L313.3,667.7 L313.5,667.4 L313.7,667.1 L313.9,666.8 L314.1,666.5 L314.3,666.2 L314.5,665.9 L314.7,665.6 L314.8,665.2 L315.0,664.9 L315.2,664.5 L315.4,664.2 L315.5,663.8 L315.7,663.4 L315.9,663.0 L316.1,662.6 L316.2,662.2 L316.4,661.8 L316.5,661.4 L316.7,661.0 L316.9,660.6 L317.0,660.2 L317.2,659.8 L317.3,659.4 L317.5,659.0 L317.7,658.6 L317.8,658.1 L318.0,657.7 L318.2,657.3 L318.3,656.9 L318.5,656.5 L318.6,656.1 L318.8,655.7 L319.0,655.3 L319.1,654.9 L319.3,654.5 L319.5,654.2 L319.6,653.8 L319.8,653.4 L320.0,653.1 L320.2,652.7 L320.4,652.4 L320.5,652.1 L320.7,651.7 L320.9,651.4 L321.1,651.1 L321.3,650.8 L321.5,650.6 L321.7,650.3 L321.9,650.0 L322.1,649.8 L322.3,649.6 L322.5,649.3 L322.7,649.1 L323.0,649.0 L323.2,648.8 L323.4,648.6 L323.6,648.5 L323.9,648.3 L324.1,648.2 L324.4,648.1 L324.6,648.0 L324.9,647.9 L325.1,647.9 L325.4,647.8 L325.6,647.8 L325.9,647.8 L326.2,647.8" stroke="#44708e" stroke-width="2"/><path d="M109.0,670.2 L109.3,670.2 L109.6,670.2 L109.8,670.1 L110.1,670.0 L110.3,670.0 L110.6,669.9 L110.8,669.8 L111.1,669.6 L111.3,669.5 L111.5,669.4 L111.8,669.2 L112.0,669.0 L112.2,668.8 L112.4,668.6 L112.6,668.4 L112.8,668.2 L113.0,667.9 L113.2,667.7 L113.4,667.4 L113.6,667.1 L113.8,666.8 L114.0,666.5 L114.2,666.2 L114.4,665.9 L114.6,665.6 L114.8,665.2 L114.9,664.9 L115.1,664.5 L115.3,664.1 L115.5,663.8 L115.6,663.4 L115.8,663.0 L116.0,662.6 L116.1,662.2 L116.3,661.8 L116.5,661.4 L116.6,661.0 L116.8,660.6 L116.9,660.2 L117.1,659.8 L117.3,659.4 L117.4,658.9 L117.6,658.5 L117.7,658.1 L117.9,657.7 L118.1,657.3 L118.2,656.9 L118.4,656.5 L118.6,656.1 L118.7,655.7 L118.9,655.3 L119.0,654.9 L119.2,654.5 L119.4,654.1 L119.6,653.8 L119.7,653.4 L119.9,653.0 L120.1,652.7 L120.3,652.4 L120.4,652.0 L120.6,651.7 L120.8,651.4 L121.0,651.1 L121.2,650.8 L121.4,650.5 L121.6,650.3 L121.8,650.0 L122.0,649.8 L122.2,649.5 L122.4,649.3 L122.7,649.1 L122.9,648.9 L123.1,648.8 L123.3,648.6 L123.6,648.5 L123.8,648.3 L124.0,648.2 L124.3,648.1 L124.5,648.0 L124.8,647.9 L125.0,647.9 L125.3,647.8 L125.6,647.8 L125.8,647.8 L126.1,647.8" stroke="#1e252b" stroke-width="4.6"/><path d="M109.0,670.2 L109.3,670.2 L109.6,670.2 L109.8,670.1 L110.1,670.0 L110.3,670.0 L110.6,669.9 L110.8,669.8 L111.1,669.6 L111.3,669.5 L111.5,669.4 L111.8,669.2 L112.0,669.0 L112.2,668.8 L112.4,668.6 L112.6,668.4 L112.8,668.2 L113.0,667.9 L113.2,667.7 L113.4,667.4 L113.6,667.1 L113.8,666.8 L114.0,666.5 L114.2,666.2 L114.4,665.9 L114.6,665.6 L114.8,665.2 L114.9,664.9 L115.1,664.5 L115.3,664.1 L115.5,663.8 L115.6,663.4 L115.8,663.0 L116.0,662.6 L116.1,662.2 L116.3,661.8 L116.5,661.4 L116.6,661.0 L116.8,660.6 L116.9,660.2 L117.1,659.8 L117.3,659.4 L117.4,658.9 L117.6,658.5 L117.7,658.1 L117.9,657.7 L118.1,657.3 L118.2,656.9 L118.4,656.5 L118.6,656.1 L118.7,655.7 L118.9,655.3 L119.0,654.9 L119.2,654.5 L119.4,654.1 L119.6,653.8 L119.7,653.4 L119.9,653.0 L120.1,652.7 L120.3,652.4 L120.4,652.0 L120.6,651.7 L120.8,651.4 L121.0,651.1 L121.2,650.8 L121.4,650.5 L121.6,650.3 L121.8,650.0 L122.0,649.8 L122.2,649.5 L122.4,649.3 L122.7,649.1 L122.9,648.9 L123.1,648.8 L123.3,648.6 L123.6,648.5 L123.8,648.3 L124.0,648.2 L124.3,648.1 L124.5,648.0 L124.8,647.9 L125.0,647.9 L125.3,647.8 L125.6,647.8 L125.8,647.8 L126.1,647.8" stroke="#44708e" stroke-width="2"/><path d="M155.1,670.2 L155.4,670.2 L155.7,670.1 L155.9,670.1 L156.2,670.0 L156.4,669.9 L156.7,669.8 L156.9,669.7 L157.1,669.6 L157.4,669.5 L157.6,669.3 L157.8,669.1 L158.1,669.0 L158.3,668.8 L158.5,668.5 L158.7,668.3 L158.9,668.1 L159.1,667.8 L159.3,667.6 L159.5,667.3 L159.7,667.0 L159.9,666.7 L160.1,666.4 L160.3,666.1 L160.5,665.8 L160.6,665.4 L160.8,665.1 L161.0,664.7 L161.2,664.4 L161.3,664.0 L161.5,663.6 L161.7,663.3 L161.9,662.9 L162.0,662.5 L162.2,662.1 L162.3,661.7 L162.5,661.3 L162.7,660.9 L162.8,660.5 L163.0,660.1 L163.2,659.6 L163.3,659.2 L163.5,658.8 L163.6,658.4 L163.8,658.0 L164.0,657.6 L164.1,657.2 L164.3,656.8 L164.4,656.3 L164.6,655.9 L164.8,655.5 L164.9,655.2 L165.1,654.8 L165.3,654.4 L165.4,654.0 L165.6,653.6 L165.8,653.3 L166.0,652.9 L166.1,652.6 L166.3,652.3 L166.5,651.9 L166.7,651.6 L166.9,651.3 L167.1,651.0 L167.3,650.7 L167.5,650.4 L167.7,650.2 L167.9,649.9 L168.1,649.7 L168.3,649.5 L168.5,649.3 L168.7,649.1 L168.9,648.9 L169.2,648.7 L169.4,648.6 L169.6,648.4 L169.9,648.3 L170.1,648.2 L170.4,648.1 L170.6,648.0 L170.9,647.9 L171.1,647.9 L171.4,647.8 L171.6,647.8 L171.9,647.8" stroke="#1e252b" stroke-width="4.6"/><path d="M155.1,670.2 L155.4,670.2 L155.7,670.1 L155.9,670.1 L156.2,670.0 L156.4,669.9 L156.7,669.8 L156.9,669.7 L157.1,669.6 L157.4,669.5 L157.6,669.3 L157.8,669.1 L158.1,669.0 L158.3,668.8 L158.5,668.5 L158.7,668.3 L158.9,668.1 L159.1,667.8 L159.3,667.6 L159.5,667.3 L159.7,667.0 L159.9,666.7 L160.1,666.4 L160.3,666.1 L160.5,665.8 L160.6,665.4 L160.8,665.1 L161.0,664.7 L161.2,664.4 L161.3,664.0 L161.5,663.6 L161.7,663.3 L161.9,662.9 L162.0,662.5 L162.2,662.1 L162.3,661.7 L162.5,661.3 L162.7,660.9 L162.8,660.5 L163.0,660.1 L163.2,659.6 L163.3,659.2 L163.5,658.8 L163.6,658.4 L163.8,658.0 L164.0,657.6 L164.1,657.2 L164.3,656.8 L164.4,656.3 L164.6,655.9 L164.8,655.5 L164.9,655.2 L165.1,654.8 L165.3,654.4 L165.4,654.0 L165.6,653.6 L165.8,653.3 L166.0,652.9 L166.1,652.6 L166.3,652.3 L166.5,651.9 L166.7,651.6 L166.9,651.3 L167.1,651.0 L167.3,650.7 L167.5,650.4 L167.7,650.2 L167.9,649.9 L168.1,649.7 L168.3,649.5 L168.5,649.3 L168.7,649.1 L168.9,648.9 L169.2,648.7 L169.4,648.6 L169.6,648.4 L169.9,648.3 L170.1,648.2 L170.4,648.1 L170.6,648.0 L170.9,647.9 L171.1,647.9 L171.4,647.8 L171.6,647.8 L171.9,647.8" stroke="#44708e" stroke-width="2"/><path d="M201.0,670.2 L201.2,670.2 L201.5,670.2 L201.7,670.1 L202.0,670.1 L202.3,670.0 L202.5,669.9 L202.7,669.8 L203.0,669.7 L203.2,669.6 L203.5,669.4 L203.7,669.2 L203.9,669.1 L204.1,668.9 L204.3,668.7 L204.6,668.5 L204.8,668.2 L205.0,668.0 L205.2,667.7 L205.4,667.5 L205.6,667.2 L205.8,666.9 L206.0,666.6 L206.1,666.3 L206.3,666.0 L206.5,665.7 L206.7,665.3 L206.9,665.0 L207.1,664.6 L207.2,664.3 L207.4,663.9 L207.6,663.5 L207.7,663.1 L207.9,662.7 L208.1,662.4 L208.2,662.0 L208.4,661.6 L208.6,661.1 L208.7,660.7 L208.9,660.3 L209.0,659.9 L209.2,659.5 L209.4,659.1 L209.5,658.7 L209.7,658.3 L209.8,657.8 L210.0,657.4 L210.2,657.0 L210.3,656.6 L210.5,656.2 L210.7,655.8 L210.8,655.4 L211.0,655.0 L211.2,654.6 L211.3,654.3 L211.5,653.9 L211.7,653.5 L211.8,653.2 L212.0,652.8 L212.2,652.5 L212.4,652.1 L212.6,651.8 L212.8,651.5 L212.9,651.2 L213.1,650.9 L213.3,650.6 L213.5,650.4 L213.7,650.1 L213.9,649.9 L214.2,649.6 L214.4,649.4 L214.6,649.2 L214.8,649.0 L215.0,648.8 L215.2,648.7 L215.5,648.5 L215.7,648.4 L216.0,648.2 L216.2,648.1 L216.4,648.0 L216.7,648.0 L216.9,647.9 L217.2,647.9 L217.5,647.8 L217.7,647.8 L218.0,647.8" stroke="#1e252b" stroke-width="4.6"/><path d="M201.0,670.2 L201.2,670.2 L201.5,670.2 L201.7,670.1 L202.0,670.1 L202.3,670.0 L202.5,669.9 L202.7,669.8 L203.0,669.7 L203.2,669.6 L203.5,669.4 L203.7,669.2 L203.9,669.1 L204.1,668.9 L204.3,668.7 L204.6,668.5 L204.8,668.2 L205.0,668.0 L205.2,667.7 L205.4,667.5 L205.6,667.2 L205.8,666.9 L206.0,666.6 L206.1,666.3 L206.3,666.0 L206.5,665.7 L206.7,665.3 L206.9,665.0 L207.1,664.6 L207.2,664.3 L207.4,663.9 L207.6,663.5 L207.7,663.1 L207.9,662.7 L208.1,662.4 L208.2,662.0 L208.4,661.6 L208.6,661.1 L208.7,660.7 L208.9,660.3 L209.0,659.9 L209.2,659.5 L209.4,659.1 L209.5,658.7 L209.7,658.3 L209.8,657.8 L210.0,657.4 L210.2,657.0 L210.3,656.6 L210.5,656.2 L210.7,655.8 L210.8,655.4 L211.0,655.0 L211.2,654.6 L211.3,654.3 L211.5,653.9 L211.7,653.5 L211.8,653.2 L212.0,652.8 L212.2,652.5 L212.4,652.1 L212.6,651.8 L212.8,651.5 L212.9,651.2 L213.1,650.9 L213.3,650.6 L213.5,650.4 L213.7,650.1 L213.9,649.9 L214.2,649.6 L214.4,649.4 L214.6,649.2 L214.8,649.0 L215.0,648.8 L215.2,648.7 L215.5,648.5 L215.7,648.4 L216.0,648.2 L216.2,648.1 L216.4,648.0 L216.7,648.0 L216.9,647.9 L217.2,647.9 L217.5,647.8 L217.7,647.8 L218.0,647.8" stroke="#44708e" stroke-width="2"/><path d="M247.0,670.2 L247.3,670.2 L247.6,670.2 L247.8,670.1 L248.1,670.0 L248.3,670.0 L248.6,669.9 L248.8,669.8 L249.1,669.6 L249.3,669.5 L249.5,669.4 L249.8,669.2 L250.0,669.0 L250.2,668.8 L250.4,668.6 L250.6,668.4 L250.8,668.2 L251.0,667.9 L251.2,667.7 L251.4,667.4 L251.6,667.1 L251.8,666.8 L252.0,666.5 L252.2,666.2 L252.4,665.9 L252.6,665.6 L252.8,665.2 L252.9,664.9 L253.1,664.5 L253.3,664.1 L253.5,663.8 L253.6,663.4 L253.8,663.0 L254.0,662.6 L254.1,662.2 L254.3,661.8 L254.5,661.4 L254.6,661.0 L254.8,660.6 L254.9,660.2 L255.1,659.8 L255.3,659.4 L255.4,659.0 L255.6,658.5 L255.7,658.1 L255.9,657.7 L256.1,657.3 L256.2,656.9 L256.4,656.5 L256.5,656.1 L256.7,655.7 L256.9,655.3 L257.0,654.9 L257.2,654.5 L257.4,654.1 L257.6,653.8 L257.7,653.4 L257.9,653.1 L258.1,652.7 L258.3,652.4 L258.4,652.0 L258.6,651.7 L258.8,651.4 L259.0,651.1 L259.2,650.8 L259.4,650.5 L259.6,650.3 L259.8,650.0 L260.0,649.8 L260.2,649.6 L260.4,649.3 L260.7,649.1 L260.9,648.9 L261.1,648.8 L261.3,648.6 L261.6,648.5 L261.8,648.3 L262.0,648.2 L262.3,648.1 L262.5,648.0 L262.8,647.9 L263.0,647.9 L263.3,647.8 L263.6,647.8 L263.8,647.8 L264.1,647.8" stroke="#1e252b" stroke-width="4.6"/><path d="M247.0,670.2 L247.3,670.2 L247.6,670.2 L247.8,670.1 L248.1,670.0 L248.3,670.0 L248.6,669.9 L248.8,669.8 L249.1,669.6 L249.3,669.5 L249.5,669.4 L249.8,669.2 L250.0,669.0 L250.2,668.8 L250.4,668.6 L250.6,668.4 L250.8,668.2 L251.0,667.9 L251.2,667.7 L251.4,667.4 L251.6,667.1 L251.8,666.8 L252.0,666.5 L252.2,666.2 L252.4,665.9 L252.6,665.6 L252.8,665.2 L252.9,664.9 L253.1,664.5 L253.3,664.1 L253.5,663.8 L253.6,663.4 L253.8,663.0 L254.0,662.6 L254.1,662.2 L254.3,661.8 L254.5,661.4 L254.6,661.0 L254.8,660.6 L254.9,660.2 L255.1,659.8 L255.3,659.4 L255.4,659.0 L255.6,658.5 L255.7,658.1 L255.9,657.7 L256.1,657.3 L256.2,656.9 L256.4,656.5 L256.5,656.1 L256.7,655.7 L256.9,655.3 L257.0,654.9 L257.2,654.5 L257.4,654.1 L257.6,653.8 L257.7,653.4 L257.9,653.1 L258.1,652.7 L258.3,652.4 L258.4,652.0 L258.6,651.7 L258.8,651.4 L259.0,651.1 L259.2,650.8 L259.4,650.5 L259.6,650.3 L259.8,650.0 L260.0,649.8 L260.2,649.6 L260.4,649.3 L260.7,649.1 L260.9,648.9 L261.1,648.8 L261.3,648.6 L261.6,648.5 L261.8,648.3 L262.0,648.2 L262.3,648.1 L262.5,648.0 L262.8,647.9 L263.0,647.9 L263.3,647.8 L263.6,647.8 L263.8,647.8 L264.1,647.8" stroke="#44708e" stroke-width="2"/><path d="M293.1,670.2 L293.4,670.2 L293.7,670.1 L293.9,670.1 L294.2,670.0 L294.4,669.9 L294.7,669.8 L294.9,669.7 L295.1,669.6 L295.4,669.5 L295.6,669.3 L295.8,669.1 L296.1,669.0 L296.3,668.8 L296.5,668.5 L296.7,668.3 L296.9,668.1 L297.1,667.8 L297.3,667.6 L297.5,667.3 L297.7,667.0 L297.9,666.7 L298.1,666.4 L298.3,666.1 L298.5,665.8 L298.6,665.4 L298.8,665.1 L299.0,664.7 L299.2,664.4 L299.3,664.0 L299.5,663.6 L299.7,663.3 L299.8,662.9 L300.0,662.5 L300.2,662.1 L300.3,661.7 L300.5,661.3 L300.7,660.9 L300.8,660.5 L301.0,660.1 L301.2,659.6 L301.3,659.2 L301.5,658.8 L301.6,658.4 L301.8,658.0 L302.0,657.6 L302.1,657.2 L302.3,656.8 L302.4,656.4 L302.6,656.0 L302.8,655.6 L302.9,655.2 L303.1,654.8 L303.3,654.4 L303.4,654.0 L303.6,653.7 L303.8,653.3 L304.0,652.9 L304.1,652.6 L304.3,652.3 L304.5,651.9 L304.7,651.6 L304.9,651.3 L305.1,651.0 L305.3,650.7 L305.5,650.5 L305.7,650.2 L305.9,649.9 L306.1,649.7 L306.3,649.5 L306.5,649.3 L306.7,649.1 L306.9,648.9 L307.2,648.7 L307.4,648.6 L307.6,648.4 L307.9,648.3 L308.1,648.2 L308.4,648.1 L308.6,648.0 L308.9,647.9 L309.1,647.9 L309.4,647.8 L309.6,647.8 L309.9,647.8" stroke="#1e252b" stroke-width="4.6"/><path d="M293.1,670.2 L293.4,670.2 L293.7,670.1 L293.9,670.1 L294.2,670.0 L294.4,669.9 L294.7,669.8 L294.9,669.7 L295.1,669.6 L295.4,669.5 L295.6,669.3 L295.8,669.1 L296.1,669.0 L296.3,668.8 L296.5,668.5 L296.7,668.3 L296.9,668.1 L297.1,667.8 L297.3,667.6 L297.5,667.3 L297.7,667.0 L297.9,666.7 L298.1,666.4 L298.3,666.1 L298.5,665.8 L298.6,665.4 L298.8,665.1 L299.0,664.7 L299.2,664.4 L299.3,664.0 L299.5,663.6 L299.7,663.3 L299.8,662.9 L300.0,662.5 L300.2,662.1 L300.3,661.7 L300.5,661.3 L300.7,660.9 L300.8,660.5 L301.0,660.1 L301.2,659.6 L301.3,659.2 L301.5,658.8 L301.6,658.4 L301.8,658.0 L302.0,657.6 L302.1,657.2 L302.3,656.8 L302.4,656.4 L302.6,656.0 L302.8,655.6 L302.9,655.2 L303.1,654.8 L303.3,654.4 L303.4,654.0 L303.6,653.7 L303.8,653.3 L304.0,652.9 L304.1,652.6 L304.3,652.3 L304.5,651.9 L304.7,651.6 L304.9,651.3 L305.1,651.0 L305.3,650.7 L305.5,650.5 L305.7,650.2 L305.9,649.9 L306.1,649.7 L306.3,649.5 L306.5,649.3 L306.7,649.1 L306.9,648.9 L307.2,648.7 L307.4,648.6 L307.6,648.4 L307.9,648.3 L308.1,648.2 L308.4,648.1 L308.6,648.0 L308.9,647.9 L309.1,647.9 L309.4,647.8 L309.6,647.8 L309.9,647.8" stroke="#44708e" stroke-width="2"/><path d="M339.0,670.2 L339.2,670.2 L339.5,670.2 L339.7,670.1 L340.0,670.1 L340.3,670.0 L340.5,669.9 L340.7,669.8 L341.0,669.7 L341.2,669.6 L341.5,669.4 L341.7,669.3 L341.9,669.1 L342.1,668.9 L342.3,668.7 L342.6,668.5 L342.8,668.2 L343.0,668.0 L343.2,667.8 L343.4,667.5 L343.6,667.2 L343.8,666.9 L344.0,666.6 L344.1,666.3 L344.3,666.0 L344.5,665.7 L344.7,665.3" stroke="#1e252b" stroke-width="4.6"/><path d="M339.0,670.2 L339.2,670.2 L339.5,670.2 L339.7,670.1 L340.0,670.1 L340.3,670.0 L340.5,669.9 L340.7,669.8 L341.0,669.7 L341.2,669.6 L341.5,669.4 L341.7,669.3 L341.9,669.1 L342.1,668.9 L342.3,668.7 L342.6,668.5 L342.8,668.2 L343.0,668.0 L343.2,667.8 L343.4,667.5 L343.6,667.2 L343.8,666.9 L344.0,666.6 L344.1,666.3 L344.3,666.0 L344.5,665.7 L344.7,665.3" stroke="#44708e" stroke-width="2"/><path d="M96.0,647.8 L96.3,647.8 L96.6,647.8 L96.8,647.9 L97.1,647.9 L97.4,648.0 L97.7,648.1 L98.0,648.2 L98.3,648.3 L98.6,648.4 L98.9,648.6 L99.2,648.7 L99.5,648.9 L99.9,649.1 L100.2,649.3 L100.5,649.5 L100.8,649.7 L101.2,649.9 L101.5,650.2 L101.9,650.5 L102.2,650.7 L102.6,651.0 L102.9,651.3 L103.3,651.6 L103.6,651.9 L104.0,652.3 L104.3,652.6 L104.7,652.9 L105.1,653.3 L105.4,653.7 L105.8,654.0 L106.2,654.4 L106.5,654.8 L106.9,655.2 L107.3,655.6 L107.7,656.0 L108.1,656.4 L108.4,656.8 L108.8,657.2 L109.2,657.6 L109.6,658.0 L110.0,658.4 L110.3,658.8 L110.7,659.2 L111.1,659.7 L111.5,660.1 L111.9,660.5 L112.2,660.9 L112.6,661.3 L113.0,661.7 L113.4,662.1 L113.8,662.5 L114.1,662.9 L114.5,663.3 L114.9,663.7 L115.3,664.0 L115.6,664.4 L116.0,664.8 L116.4,665.1 L116.7,665.5 L117.1,665.8 L117.4,666.1 L117.8,666.4 L118.2,666.7 L118.5,667.0 L118.8,667.3 L119.2,667.6 L119.5,667.8 L119.9,668.1 L120.2,668.3 L120.5,668.6 L120.9,668.8 L121.2,669.0 L121.5,669.1 L121.8,669.3 L122.1,669.5 L122.4,669.6 L122.8,669.7 L123.1,669.8 L123.3,669.9 L123.6,670.0 L123.9,670.1 L124.2,670.1 L124.5,670.2 L124.8,670.2 L125.0,670.2" stroke="#1e252b" stroke-width="5"/><path d="M96.0,647.8 L96.3,647.8 L96.6,647.8 L96.8,647.9 L97.1,647.9 L97.4,648.0 L97.7,648.1 L98.0,648.2 L98.3,648.3 L98.6,648.4 L98.9,648.6 L99.2,648.7 L99.5,648.9 L99.9,649.1 L100.2,649.3 L100.5,649.5 L100.8,649.7 L101.2,649.9 L101.5,650.2 L101.9,650.5 L102.2,650.7 L102.6,651.0 L102.9,651.3 L103.3,651.6 L103.6,651.9 L104.0,652.3 L104.3,652.6 L104.7,652.9 L105.1,653.3 L105.4,653.7 L105.8,654.0 L106.2,654.4 L106.5,654.8 L106.9,655.2 L107.3,655.6 L107.7,656.0 L108.1,656.4 L108.4,656.8 L108.8,657.2 L109.2,657.6 L109.6,658.0 L110.0,658.4 L110.3,658.8 L110.7,659.2 L111.1,659.7 L111.5,660.1 L111.9,660.5 L112.2,660.9 L112.6,661.3 L113.0,661.7 L113.4,662.1 L113.8,662.5 L114.1,662.9 L114.5,663.3 L114.9,663.7 L115.3,664.0 L115.6,664.4 L116.0,664.8 L116.4,665.1 L116.7,665.5 L117.1,665.8 L117.4,666.1 L117.8,666.4 L118.2,666.7 L118.5,667.0 L118.8,667.3 L119.2,667.6 L119.5,667.8 L119.9,668.1 L120.2,668.3 L120.5,668.6 L120.9,668.8 L121.2,669.0 L121.5,669.1 L121.8,669.3 L122.1,669.5 L122.4,669.6 L122.8,669.7 L123.1,669.8 L123.3,669.9 L123.6,670.0 L123.9,670.1 L124.2,670.1 L124.5,670.2 L124.8,670.2 L125.0,670.2" stroke="#86aec8" stroke-width="2.3"/><path d="M142.1,647.8 L142.4,647.8 L142.6,647.8 L142.9,647.9 L143.2,647.9 L143.5,648.0 L143.8,648.1 L144.1,648.2 L144.4,648.3 L144.7,648.5 L145.0,648.6 L145.3,648.8 L145.6,648.9 L146.0,649.1 L146.3,649.3 L146.6,649.6 L147.0,649.8 L147.3,650.0 L147.6,650.3 L148.0,650.5 L148.3,650.8 L148.7,651.1 L149.0,651.4 L149.4,651.7 L149.7,652.0 L150.1,652.4 L150.5,652.7 L150.8,653.1 L151.2,653.4 L151.6,653.8 L151.9,654.2 L152.3,654.5 L152.7,654.9 L153.0,655.3 L153.4,655.7 L153.8,656.1 L154.2,656.5 L154.6,656.9 L154.9,657.3 L155.3,657.7 L155.7,658.1 L156.1,658.5 L156.5,659.0 L156.8,659.4 L157.2,659.8 L157.6,660.2 L158.0,660.6 L158.4,661.0 L158.8,661.4 L159.1,661.8 L159.5,662.2 L159.9,662.6 L160.3,663.0 L160.6,663.4 L161.0,663.8 L161.4,664.2 L161.7,664.5 L162.1,664.9 L162.5,665.2 L162.8,665.6 L163.2,665.9 L163.6,666.2 L163.9,666.5 L164.3,666.8 L164.6,667.1 L165.0,667.4 L165.3,667.7 L165.6,667.9 L166.0,668.2 L166.3,668.4 L166.6,668.6 L167.0,668.8 L167.3,669.0 L167.6,669.2 L167.9,669.4 L168.2,669.5 L168.5,669.6 L168.8,669.8 L169.1,669.9 L169.4,670.0 L169.7,670.0 L170.0,670.1 L170.3,670.2 L170.6,670.2 L170.9,670.2 L171.1,670.2" stroke="#1e252b" stroke-width="5"/><path d="M142.1,647.8 L142.4,647.8 L142.6,647.8 L142.9,647.9 L143.2,647.9 L143.5,648.0 L143.8,648.1 L144.1,648.2 L144.4,648.3 L144.7,648.5 L145.0,648.6 L145.3,648.8 L145.6,648.9 L146.0,649.1 L146.3,649.3 L146.6,649.6 L147.0,649.8 L147.3,650.0 L147.6,650.3 L148.0,650.5 L148.3,650.8 L148.7,651.1 L149.0,651.4 L149.4,651.7 L149.7,652.0 L150.1,652.4 L150.5,652.7 L150.8,653.1 L151.2,653.4 L151.6,653.8 L151.9,654.2 L152.3,654.5 L152.7,654.9 L153.0,655.3 L153.4,655.7 L153.8,656.1 L154.2,656.5 L154.6,656.9 L154.9,657.3 L155.3,657.7 L155.7,658.1 L156.1,658.5 L156.5,659.0 L156.8,659.4 L157.2,659.8 L157.6,660.2 L158.0,660.6 L158.4,661.0 L158.8,661.4 L159.1,661.8 L159.5,662.2 L159.9,662.6 L160.3,663.0 L160.6,663.4 L161.0,663.8 L161.4,664.2 L161.7,664.5 L162.1,664.9 L162.5,665.2 L162.8,665.6 L163.2,665.9 L163.6,666.2 L163.9,666.5 L164.3,666.8 L164.6,667.1 L165.0,667.4 L165.3,667.7 L165.6,667.9 L166.0,668.2 L166.3,668.4 L166.6,668.6 L167.0,668.8 L167.3,669.0 L167.6,669.2 L167.9,669.4 L168.2,669.5 L168.5,669.6 L168.8,669.8 L169.1,669.9 L169.4,670.0 L169.7,670.0 L170.0,670.1 L170.3,670.2 L170.6,670.2 L170.9,670.2 L171.1,670.2" stroke="#86aec8" stroke-width="2.3"/><path d="M188.2,647.8 L188.5,647.8 L188.7,647.9 L189.0,647.9 L189.3,648.0 L189.6,648.0 L189.9,648.1 L190.2,648.2 L190.5,648.4 L190.8,648.5 L191.1,648.7 L191.4,648.8 L191.8,649.0 L192.1,649.2 L192.4,649.4 L192.7,649.6 L193.1,649.9 L193.4,650.1 L193.7,650.4 L194.1,650.6 L194.4,650.9 L194.8,651.2 L195.1,651.5 L195.5,651.8 L195.9,652.2 L196.2,652.5 L196.6,652.8 L196.9,653.2 L197.3,653.5 L197.7,653.9 L198.0,654.3 L198.4,654.7 L198.8,655.0 L199.2,655.4 L199.5,655.8 L199.9,656.2 L200.3,656.6 L200.7,657.0 L201.1,657.4 L201.4,657.9 L201.8,658.3 L202.2,658.7 L202.6,659.1 L203.0,659.5 L203.4,659.9 L203.7,660.3 L204.1,660.8 L204.5,661.2 L204.9,661.6 L205.3,662.0 L205.6,662.4 L206.0,662.8 L206.4,663.1 L206.8,663.5 L207.1,663.9 L207.5,664.3 L207.9,664.6 L208.2,665.0 L208.6,665.3 L209.0,665.7 L209.3,666.0 L209.7,666.3 L210.0,666.6 L210.4,666.9 L210.7,667.2 L211.1,667.5 L211.4,667.8 L211.8,668.0 L212.1,668.2 L212.4,668.5 L212.8,668.7 L213.1,668.9 L213.4,669.1 L213.7,669.3 L214.0,669.4 L214.3,669.6 L214.6,669.7 L214.9,669.8 L215.2,669.9 L215.5,670.0 L215.8,670.1 L216.1,670.1 L216.4,670.2 L216.7,670.2 L217.0,670.2 L217.2,670.2" stroke="#1e252b" stroke-width="5"/><path d="M188.2,647.8 L188.5,647.8 L188.7,647.9 L189.0,647.9 L189.3,648.0 L189.6,648.0 L189.9,648.1 L190.2,648.2 L190.5,648.4 L190.8,648.5 L191.1,648.7 L191.4,648.8 L191.8,649.0 L192.1,649.2 L192.4,649.4 L192.7,649.6 L193.1,649.9 L193.4,650.1 L193.7,650.4 L194.1,650.6 L194.4,650.9 L194.8,651.2 L195.1,651.5 L195.5,651.8 L195.9,652.2 L196.2,652.5 L196.6,652.8 L196.9,653.2 L197.3,653.5 L197.7,653.9 L198.0,654.3 L198.4,654.7 L198.8,655.0 L199.2,655.4 L199.5,655.8 L199.9,656.2 L200.3,656.6 L200.7,657.0 L201.1,657.4 L201.4,657.9 L201.8,658.3 L202.2,658.7 L202.6,659.1 L203.0,659.5 L203.4,659.9 L203.7,660.3 L204.1,660.8 L204.5,661.2 L204.9,661.6 L205.3,662.0 L205.6,662.4 L206.0,662.8 L206.4,663.1 L206.8,663.5 L207.1,663.9 L207.5,664.3 L207.9,664.6 L208.2,665.0 L208.6,665.3 L209.0,665.7 L209.3,666.0 L209.7,666.3 L210.0,666.6 L210.4,666.9 L210.7,667.2 L211.1,667.5 L211.4,667.8 L211.8,668.0 L212.1,668.2 L212.4,668.5 L212.8,668.7 L213.1,668.9 L213.4,669.1 L213.7,669.3 L214.0,669.4 L214.3,669.6 L214.6,669.7 L214.9,669.8 L215.2,669.9 L215.5,670.0 L215.8,670.1 L216.1,670.1 L216.4,670.2 L216.7,670.2 L217.0,670.2 L217.2,670.2" stroke="#86aec8" stroke-width="2.3"/><path d="M234.3,647.8 L234.5,647.8 L234.8,647.9 L235.1,647.9 L235.4,648.0 L235.7,648.1 L236.0,648.2 L236.3,648.3 L236.6,648.4 L236.9,648.6 L237.2,648.7 L237.5,648.9 L237.9,649.1 L238.2,649.3 L238.5,649.5 L238.8,649.7 L239.2,649.9 L239.5,650.2 L239.9,650.5 L240.2,650.7 L240.5,651.0 L240.9,651.3 L241.3,651.6 L241.6,651.9 L242.0,652.3 L242.3,652.6 L242.7,652.9 L243.1,653.3 L243.4,653.7 L243.8,654.0 L244.2,654.4 L244.5,654.8 L244.9,655.2 L245.3,655.6 L245.7,656.0 L246.0,656.4 L246.4,656.8 L246.8,657.2 L247.2,657.6 L247.6,658.0 L248.0,658.4 L248.3,658.8 L248.7,659.2 L249.1,659.6 L249.5,660.1 L249.9,660.5 L250.2,660.9 L250.6,661.3 L251.0,661.7 L251.4,662.1 L251.8,662.5 L252.1,662.9 L252.5,663.3 L252.9,663.7 L253.3,664.0 L253.6,664.4 L254.0,664.8 L254.4,665.1 L254.7,665.4 L255.1,665.8 L255.4,666.1 L255.8,666.4 L256.1,666.7 L256.5,667.0 L256.8,667.3 L257.2,667.6 L257.5,667.8 L257.9,668.1 L258.2,668.3 L258.5,668.5 L258.9,668.8 L259.2,669.0 L259.5,669.1 L259.8,669.3 L260.1,669.5 L260.4,669.6 L260.7,669.7 L261.0,669.8 L261.3,669.9 L261.6,670.0 L261.9,670.1 L262.2,670.1 L262.5,670.2 L262.8,670.2 L263.0,670.2" stroke="#1e252b" stroke-width="5"/><path d="M234.3,647.8 L234.5,647.8 L234.8,647.9 L235.1,647.9 L235.4,648.0 L235.7,648.1 L236.0,648.2 L236.3,648.3 L236.6,648.4 L236.9,648.6 L237.2,648.7 L237.5,648.9 L237.9,649.1 L238.2,649.3 L238.5,649.5 L238.8,649.7 L239.2,649.9 L239.5,650.2 L239.9,650.5 L240.2,650.7 L240.5,651.0 L240.9,651.3 L241.3,651.6 L241.6,651.9 L242.0,652.3 L242.3,652.6 L242.7,652.9 L243.1,653.3 L243.4,653.7 L243.8,654.0 L244.2,654.4 L244.5,654.8 L244.9,655.2 L245.3,655.6 L245.7,656.0 L246.0,656.4 L246.4,656.8 L246.8,657.2 L247.2,657.6 L247.6,658.0 L248.0,658.4 L248.3,658.8 L248.7,659.2 L249.1,659.6 L249.5,660.1 L249.9,660.5 L250.2,660.9 L250.6,661.3 L251.0,661.7 L251.4,662.1 L251.8,662.5 L252.1,662.9 L252.5,663.3 L252.9,663.7 L253.3,664.0 L253.6,664.4 L254.0,664.8 L254.4,665.1 L254.7,665.4 L255.1,665.8 L255.4,666.1 L255.8,666.4 L256.1,666.7 L256.5,667.0 L256.8,667.3 L257.2,667.6 L257.5,667.8 L257.9,668.1 L258.2,668.3 L258.5,668.5 L258.9,668.8 L259.2,669.0 L259.5,669.1 L259.8,669.3 L260.1,669.5 L260.4,669.6 L260.7,669.7 L261.0,669.8 L261.3,669.9 L261.6,670.0 L261.9,670.1 L262.2,670.1 L262.5,670.2 L262.8,670.2 L263.0,670.2" stroke="#86aec8" stroke-width="2.3"/><path d="M280.1,647.8 L280.4,647.8 L280.6,647.8 L280.9,647.9 L281.2,647.9 L281.5,648.0 L281.8,648.1 L282.1,648.2 L282.4,648.3 L282.7,648.5 L283.0,648.6 L283.3,648.8 L283.6,648.9 L284.0,649.1 L284.3,649.3 L284.6,649.6 L285.0,649.8 L285.3,650.0 L285.6,650.3 L286.0,650.5 L286.3,650.8 L286.7,651.1 L287.0,651.4 L287.4,651.7 L287.7,652.0 L288.1,652.4 L288.4,652.7 L288.8,653.1 L289.2,653.4 L289.5,653.8 L289.9,654.1 L290.3,654.5 L290.7,654.9 L291.0,655.3 L291.4,655.7 L291.8,656.1 L292.2,656.5 L292.6,656.9 L292.9,657.3 L293.3,657.7 L293.7,658.1 L294.1,658.5 L294.5,659.0 L294.8,659.4 L295.2,659.8 L295.6,660.2 L296.0,660.6 L296.4,661.0 L296.7,661.4 L297.1,661.8 L297.5,662.2 L297.9,662.6 L298.3,663.0 L298.6,663.4 L299.0,663.8 L299.4,664.1 L299.7,664.5 L300.1,664.9 L300.5,665.2 L300.8,665.6 L301.2,665.9 L301.6,666.2 L301.9,666.5 L302.3,666.8 L302.6,667.1 L303.0,667.4 L303.3,667.7 L303.6,667.9 L304.0,668.2 L304.3,668.4 L304.6,668.6 L305.0,668.8 L305.3,669.0 L305.6,669.2 L305.9,669.4 L306.2,669.5 L306.5,669.6 L306.8,669.8 L307.1,669.9 L307.4,670.0 L307.7,670.0 L308.0,670.1 L308.3,670.2 L308.6,670.2 L308.9,670.2 L309.1,670.2" stroke="#1e252b" stroke-width="5"/><path d="M280.1,647.8 L280.4,647.8 L280.6,647.8 L280.9,647.9 L281.2,647.9 L281.5,648.0 L281.8,648.1 L282.1,648.2 L282.4,648.3 L282.7,648.5 L283.0,648.6 L283.3,648.8 L283.6,648.9 L284.0,649.1 L284.3,649.3 L284.6,649.6 L285.0,649.8 L285.3,650.0 L285.6,650.3 L286.0,650.5 L286.3,650.8 L286.7,651.1 L287.0,651.4 L287.4,651.7 L287.7,652.0 L288.1,652.4 L288.4,652.7 L288.8,653.1 L289.2,653.4 L289.5,653.8 L289.9,654.1 L290.3,654.5 L290.7,654.9 L291.0,655.3 L291.4,655.7 L291.8,656.1 L292.2,656.5 L292.6,656.9 L292.9,657.3 L293.3,657.7 L293.7,658.1 L294.1,658.5 L294.5,659.0 L294.8,659.4 L295.2,659.8 L295.6,660.2 L296.0,660.6 L296.4,661.0 L296.7,661.4 L297.1,661.8 L297.5,662.2 L297.9,662.6 L298.3,663.0 L298.6,663.4 L299.0,663.8 L299.4,664.1 L299.7,664.5 L300.1,664.9 L300.5,665.2 L300.8,665.6 L301.2,665.9 L301.6,666.2 L301.9,666.5 L302.3,666.8 L302.6,667.1 L303.0,667.4 L303.3,667.7 L303.6,667.9 L304.0,668.2 L304.3,668.4 L304.6,668.6 L305.0,668.8 L305.3,669.0 L305.6,669.2 L305.9,669.4 L306.2,669.5 L306.5,669.6 L306.8,669.8 L307.1,669.9 L307.4,670.0 L307.7,670.0 L308.0,670.1 L308.3,670.2 L308.6,670.2 L308.9,670.2 L309.1,670.2" stroke="#86aec8" stroke-width="2.3"/><path d="M326.2,647.8 L326.4,647.8 L326.7,647.9 L327.0,647.9 L327.3,648.0 L327.6,648.0 L327.9,648.1 L328.2,648.2 L328.5,648.4 L328.8,648.5 L329.1,648.7 L329.4,648.8 L329.7,649.0 L330.1,649.2 L330.4,649.4 L330.7,649.6 L331.1,649.9 L331.4,650.1 L331.7,650.4 L332.1,650.6 L332.4,650.9 L332.8,651.2 L333.1,651.5 L333.5,651.8 L333.8,652.1 L334.2,652.5 L334.6,652.8 L334.9,653.2 L335.3,653.5 L335.7,653.9 L336.0,654.3 L336.4,654.6 L336.8,655.0 L337.2,655.4 L337.5,655.8 L337.9,656.2 L338.3,656.6 L338.7,657.0 L339.1,657.4 L339.4,657.8 L339.8,658.3 L340.2,658.7 L340.6,659.1 L341.0,659.5 L341.3,659.9 L341.7,660.3 L342.1,660.7 L342.5,661.2 L342.9,661.6 L343.3,662.0 L343.6,662.4 L344.0,662.8" stroke="#1e252b" stroke-width="5"/><path d="M326.2,647.8 L326.4,647.8 L326.7,647.9 L327.0,647.9 L327.3,648.0 L327.6,648.0 L327.9,648.1 L328.2,648.2 L328.5,648.4 L328.8,648.5 L329.1,648.7 L329.4,648.8 L329.7,649.0 L330.1,649.2 L330.4,649.4 L330.7,649.6 L331.1,649.9 L331.4,650.1 L331.7,650.4 L332.1,650.6 L332.4,650.9 L332.8,651.2 L333.1,651.5 L333.5,651.8 L333.8,652.1 L334.2,652.5 L334.6,652.8 L334.9,653.2 L335.3,653.5 L335.7,653.9 L336.0,654.3 L336.4,654.6 L336.8,655.0 L337.2,655.4 L337.5,655.8 L337.9,656.2 L338.3,656.6 L338.7,657.0 L339.1,657.4 L339.4,657.8 L339.8,658.3 L340.2,658.7 L340.6,659.1 L341.0,659.5 L341.3,659.9 L341.7,660.3 L342.1,660.7 L342.5,661.2 L342.9,661.6 L343.3,662.0 L343.6,662.4 L344.0,662.8" stroke="#86aec8" stroke-width="2.3"/><path d="M100.8,665.6 L101.1,665.9 L101.5,666.2 L101.8,666.5 L102.2,666.8 L102.5,667.1 L102.9,667.4 L103.2,667.7 L103.6,667.9 L103.9,668.2 L104.2,668.4 L104.6,668.6 L104.9,668.8 L105.2,669.0 L105.5,669.2 L105.8,669.4 L106.2,669.5 L106.5,669.7 L106.8,669.8 L107.1,669.9 L107.4,670.0 L107.7,670.0 L107.9,670.1 L108.2,670.2 L108.5,670.2 L108.8,670.2 L109.0,670.2" stroke="#1e252b" stroke-width="5"/><path d="M100.8,665.6 L101.1,665.9 L101.5,666.2 L101.8,666.5 L102.2,666.8 L102.5,667.1 L102.9,667.4 L103.2,667.7 L103.6,667.9 L103.9,668.2 L104.2,668.4 L104.6,668.6 L104.9,668.8 L105.2,669.0 L105.5,669.2 L105.8,669.4 L106.2,669.5 L106.5,669.7 L106.8,669.8 L107.1,669.9 L107.4,670.0 L107.7,670.0 L107.9,670.1 L108.2,670.2 L108.5,670.2 L108.8,670.2 L109.0,670.2" stroke="#86aec8" stroke-width="2.3"/><path d="M126.1,647.8 L126.4,647.8 L126.7,647.9 L126.9,647.9 L127.2,648.0 L127.5,648.0 L127.8,648.1 L128.1,648.3 L128.4,648.4 L128.7,648.5 L129.0,648.7 L129.4,648.8 L129.7,649.0 L130.0,649.2 L130.3,649.4 L130.7,649.6 L131.0,649.9 L131.3,650.1 L131.7,650.4 L132.0,650.7 L132.4,650.9 L132.7,651.2 L133.1,651.5 L133.4,651.8 L133.8,652.2 L134.1,652.5 L134.5,652.8 L134.9,653.2 L135.2,653.6 L135.6,653.9 L136.0,654.3 L136.3,654.7 L136.7,655.1 L137.1,655.5 L137.5,655.8 L137.8,656.2 L138.2,656.7 L138.6,657.1 L139.0,657.5 L139.4,657.9 L139.7,658.3 L140.1,658.7 L140.5,659.1 L140.9,659.5 L141.3,660.0 L141.7,660.4 L142.0,660.8 L142.4,661.2 L142.8,661.6 L143.2,662.0 L143.6,662.4 L143.9,662.8 L144.3,663.2 L144.7,663.5 L145.1,663.9 L145.4,664.3 L145.8,664.7 L146.2,665.0 L146.5,665.4 L146.9,665.7 L147.2,666.0 L147.6,666.3 L148.0,666.6 L148.3,666.9 L148.6,667.2 L149.0,667.5 L149.3,667.8 L149.7,668.0 L150.0,668.3 L150.3,668.5 L150.7,668.7 L151.0,668.9 L151.3,669.1 L151.6,669.3 L151.9,669.4 L152.3,669.6 L152.6,669.7 L152.9,669.8 L153.2,669.9 L153.5,670.0 L153.7,670.1 L154.0,670.1 L154.3,670.2 L154.6,670.2 L154.9,670.2 L155.1,670.2" stroke="#1e252b" stroke-width="5"/><path d="M126.1,647.8 L126.4,647.8 L126.7,647.9 L126.9,647.9 L127.2,648.0 L127.5,648.0 L127.8,648.1 L128.1,648.3 L128.4,648.4 L128.7,648.5 L129.0,648.7 L129.4,648.8 L129.7,649.0 L130.0,649.2 L130.3,649.4 L130.7,649.6 L131.0,649.9 L131.3,650.1 L131.7,650.4 L132.0,650.7 L132.4,650.9 L132.7,651.2 L133.1,651.5 L133.4,651.8 L133.8,652.2 L134.1,652.5 L134.5,652.8 L134.9,653.2 L135.2,653.6 L135.6,653.9 L136.0,654.3 L136.3,654.7 L136.7,655.1 L137.1,655.5 L137.5,655.8 L137.8,656.2 L138.2,656.7 L138.6,657.1 L139.0,657.5 L139.4,657.9 L139.7,658.3 L140.1,658.7 L140.5,659.1 L140.9,659.5 L141.3,660.0 L141.7,660.4 L142.0,660.8 L142.4,661.2 L142.8,661.6 L143.2,662.0 L143.6,662.4 L143.9,662.8 L144.3,663.2 L144.7,663.5 L145.1,663.9 L145.4,664.3 L145.8,664.7 L146.2,665.0 L146.5,665.4 L146.9,665.7 L147.2,666.0 L147.6,666.3 L148.0,666.6 L148.3,666.9 L148.6,667.2 L149.0,667.5 L149.3,667.8 L149.7,668.0 L150.0,668.3 L150.3,668.5 L150.7,668.7 L151.0,668.9 L151.3,669.1 L151.6,669.3 L151.9,669.4 L152.3,669.6 L152.6,669.7 L152.9,669.8 L153.2,669.9 L153.5,670.0 L153.7,670.1 L154.0,670.1 L154.3,670.2 L154.6,670.2 L154.9,670.2 L155.1,670.2" stroke="#86aec8" stroke-width="2.3"/><path d="M171.9,647.8 L172.2,647.8 L172.5,647.8 L172.7,647.9 L173.0,647.9 L173.3,648.0 L173.6,648.1 L173.9,648.2 L174.2,648.3 L174.5,648.4 L174.8,648.6 L175.1,648.7 L175.5,648.9 L175.8,649.1 L176.1,649.3 L176.4,649.5 L176.8,649.7 L177.1,650.0 L177.4,650.2 L177.8,650.5 L178.1,650.7 L178.5,651.0 L178.8,651.3 L179.2,651.6 L179.5,652.0 L179.9,652.3 L180.3,652.6 L180.6,653.0 L181.0,653.3 L181.3,653.7 L181.7,654.0 L182.1,654.4 L182.5,654.8 L182.8,655.2 L183.2,655.6 L183.6,656.0 L184.0,656.4 L184.3,656.8 L184.7,657.2 L185.1,657.6 L185.5,658.0 L185.9,658.4 L186.3,658.8 L186.6,659.3 L187.0,659.7 L187.4,660.1 L187.8,660.5 L188.2,660.9 L188.5,661.3 L188.9,661.7 L189.3,662.1 L189.7,662.5 L190.1,662.9 L190.4,663.3 L190.8,663.7 L191.2,664.0 L191.5,664.4 L191.9,664.8 L192.3,665.1 L192.6,665.5 L193.0,665.8 L193.4,666.1 L193.7,666.4 L194.1,666.7 L194.4,667.0 L194.8,667.3 L195.1,667.6 L195.4,667.9 L195.8,668.1 L196.1,668.3 L196.4,668.6 L196.8,668.8 L197.1,669.0 L197.4,669.1 L197.7,669.3 L198.0,669.5 L198.4,669.6 L198.7,669.7 L199.0,669.8 L199.3,669.9 L199.6,670.0 L199.8,670.1 L200.1,670.1 L200.4,670.2 L200.7,670.2 L201.0,670.2" stroke="#1e252b" stroke-width="5"/><path d="M171.9,647.8 L172.2,647.8 L172.5,647.8 L172.7,647.9 L173.0,647.9 L173.3,648.0 L173.6,648.1 L173.9,648.2 L174.2,648.3 L174.5,648.4 L174.8,648.6 L175.1,648.7 L175.5,648.9 L175.8,649.1 L176.1,649.3 L176.4,649.5 L176.8,649.7 L177.1,650.0 L177.4,650.2 L177.8,650.5 L178.1,650.7 L178.5,651.0 L178.8,651.3 L179.2,651.6 L179.5,652.0 L179.9,652.3 L180.3,652.6 L180.6,653.0 L181.0,653.3 L181.3,653.7 L181.7,654.0 L182.1,654.4 L182.5,654.8 L182.8,655.2 L183.2,655.6 L183.6,656.0 L184.0,656.4 L184.3,656.8 L184.7,657.2 L185.1,657.6 L185.5,658.0 L185.9,658.4 L186.3,658.8 L186.6,659.3 L187.0,659.7 L187.4,660.1 L187.8,660.5 L188.2,660.9 L188.5,661.3 L188.9,661.7 L189.3,662.1 L189.7,662.5 L190.1,662.9 L190.4,663.3 L190.8,663.7 L191.2,664.0 L191.5,664.4 L191.9,664.8 L192.3,665.1 L192.6,665.5 L193.0,665.8 L193.4,666.1 L193.7,666.4 L194.1,666.7 L194.4,667.0 L194.8,667.3 L195.1,667.6 L195.4,667.9 L195.8,668.1 L196.1,668.3 L196.4,668.6 L196.8,668.8 L197.1,669.0 L197.4,669.1 L197.7,669.3 L198.0,669.5 L198.4,669.6 L198.7,669.7 L199.0,669.8 L199.3,669.9 L199.6,670.0 L199.8,670.1 L200.1,670.1 L200.4,670.2 L200.7,670.2 L201.0,670.2" stroke="#86aec8" stroke-width="2.3"/><path d="M218.0,647.8 L218.3,647.8 L218.6,647.8 L218.8,647.9 L219.1,647.9 L219.4,648.0 L219.7,648.1 L220.0,648.2 L220.3,648.3 L220.6,648.5 L220.9,648.6 L221.2,648.8 L221.6,649.0 L221.9,649.1 L222.2,649.3 L222.5,649.6 L222.9,649.8 L223.2,650.0 L223.5,650.3 L223.9,650.6 L224.2,650.8 L224.6,651.1 L224.9,651.4 L225.3,651.7 L225.6,652.1 L226.0,652.4 L226.4,652.7 L226.7,653.1 L227.1,653.4 L227.5,653.8 L227.8,654.2 L228.2,654.5 L228.6,654.9 L229.0,655.3 L229.3,655.7 L229.7,656.1 L230.1,656.5 L230.5,656.9 L230.9,657.3 L231.2,657.7 L231.6,658.2 L232.0,658.6 L232.4,659.0 L232.8,659.4 L233.1,659.8 L233.5,660.2 L233.9,660.6 L234.3,661.0 L234.7,661.4 L235.0,661.9 L235.4,662.3 L235.8,662.6 L236.2,663.0 L236.6,663.4 L236.9,663.8 L237.3,664.2 L237.7,664.5 L238.0,664.9 L238.4,665.2 L238.8,665.6 L239.1,665.9 L239.5,666.2 L239.8,666.5 L240.2,666.8 L240.5,667.1 L240.9,667.4 L241.2,667.7 L241.6,667.9 L241.9,668.2 L242.2,668.4 L242.6,668.6 L242.9,668.8 L243.2,669.0 L243.5,669.2 L243.8,669.4 L244.2,669.5 L244.5,669.7 L244.8,669.8 L245.1,669.9 L245.4,670.0 L245.6,670.0 L245.9,670.1 L246.2,670.2 L246.5,670.2 L246.8,670.2 L247.0,670.2" stroke="#1e252b" stroke-width="5"/><path d="M218.0,647.8 L218.3,647.8 L218.6,647.8 L218.8,647.9 L219.1,647.9 L219.4,648.0 L219.7,648.1 L220.0,648.2 L220.3,648.3 L220.6,648.5 L220.9,648.6 L221.2,648.8 L221.6,649.0 L221.9,649.1 L222.2,649.3 L222.5,649.6 L222.9,649.8 L223.2,650.0 L223.5,650.3 L223.9,650.6 L224.2,650.8 L224.6,651.1 L224.9,651.4 L225.3,651.7 L225.6,652.1 L226.0,652.4 L226.4,652.7 L226.7,653.1 L227.1,653.4 L227.5,653.8 L227.8,654.2 L228.2,654.5 L228.6,654.9 L229.0,655.3 L229.3,655.7 L229.7,656.1 L230.1,656.5 L230.5,656.9 L230.9,657.3 L231.2,657.7 L231.6,658.2 L232.0,658.6 L232.4,659.0 L232.8,659.4 L233.1,659.8 L233.5,660.2 L233.9,660.6 L234.3,661.0 L234.7,661.4 L235.0,661.9 L235.4,662.3 L235.8,662.6 L236.2,663.0 L236.6,663.4 L236.9,663.8 L237.3,664.2 L237.7,664.5 L238.0,664.9 L238.4,665.2 L238.8,665.6 L239.1,665.9 L239.5,666.2 L239.8,666.5 L240.2,666.8 L240.5,667.1 L240.9,667.4 L241.2,667.7 L241.6,667.9 L241.9,668.2 L242.2,668.4 L242.6,668.6 L242.9,668.8 L243.2,669.0 L243.5,669.2 L243.8,669.4 L244.2,669.5 L244.5,669.7 L244.8,669.8 L245.1,669.9 L245.4,670.0 L245.6,670.0 L245.9,670.1 L246.2,670.2 L246.5,670.2 L246.8,670.2 L247.0,670.2" stroke="#86aec8" stroke-width="2.3"/><path d="M264.1,647.8 L264.4,647.8 L264.6,647.9 L264.9,647.9 L265.2,648.0 L265.5,648.0 L265.8,648.1 L266.1,648.3 L266.4,648.4 L266.7,648.5 L267.0,648.7 L267.3,648.8 L267.7,649.0 L268.0,649.2 L268.3,649.4 L268.6,649.6 L269.0,649.9 L269.3,650.1 L269.7,650.4 L270.0,650.6 L270.3,650.9 L270.7,651.2 L271.1,651.5 L271.4,651.8 L271.8,652.2 L272.1,652.5 L272.5,652.8 L272.9,653.2 L273.2,653.6 L273.6,653.9 L274.0,654.3 L274.3,654.7 L274.7,655.1 L275.1,655.4 L275.5,655.8 L275.8,656.2 L276.2,656.6 L276.6,657.1 L277.0,657.5 L277.4,657.9 L277.7,658.3 L278.1,658.7 L278.5,659.1 L278.9,659.5 L279.3,659.9 L279.7,660.4 L280.0,660.8 L280.4,661.2 L280.8,661.6 L281.2,662.0 L281.5,662.4 L281.9,662.8 L282.3,663.2 L282.7,663.5 L283.0,663.9 L283.4,664.3 L283.8,664.6 L284.2,665.0 L284.5,665.4 L284.9,665.7 L285.2,666.0 L285.6,666.3 L285.9,666.6 L286.3,666.9 L286.6,667.2 L287.0,667.5 L287.3,667.8 L287.7,668.0 L288.0,668.3 L288.3,668.5 L288.7,668.7 L289.0,668.9 L289.3,669.1 L289.6,669.3 L289.9,669.4 L290.3,669.6 L290.6,669.7 L290.9,669.8 L291.2,669.9 L291.5,670.0 L291.7,670.1 L292.0,670.1 L292.3,670.2 L292.6,670.2 L292.9,670.2 L293.1,670.2" stroke="#1e252b" stroke-width="5"/><path d="M264.1,647.8 L264.4,647.8 L264.6,647.9 L264.9,647.9 L265.2,648.0 L265.5,648.0 L265.8,648.1 L266.1,648.3 L266.4,648.4 L266.7,648.5 L267.0,648.7 L267.3,648.8 L267.7,649.0 L268.0,649.2 L268.3,649.4 L268.6,649.6 L269.0,649.9 L269.3,650.1 L269.7,650.4 L270.0,650.6 L270.3,650.9 L270.7,651.2 L271.1,651.5 L271.4,651.8 L271.8,652.2 L272.1,652.5 L272.5,652.8 L272.9,653.2 L273.2,653.6 L273.6,653.9 L274.0,654.3 L274.3,654.7 L274.7,655.1 L275.1,655.4 L275.5,655.8 L275.8,656.2 L276.2,656.6 L276.6,657.1 L277.0,657.5 L277.4,657.9 L277.7,658.3 L278.1,658.7 L278.5,659.1 L278.9,659.5 L279.3,659.9 L279.7,660.4 L280.0,660.8 L280.4,661.2 L280.8,661.6 L281.2,662.0 L281.5,662.4 L281.9,662.8 L282.3,663.2 L282.7,663.5 L283.0,663.9 L283.4,664.3 L283.8,664.6 L284.2,665.0 L284.5,665.4 L284.9,665.7 L285.2,666.0 L285.6,666.3 L285.9,666.6 L286.3,666.9 L286.6,667.2 L287.0,667.5 L287.3,667.8 L287.7,668.0 L288.0,668.3 L288.3,668.5 L288.7,668.7 L289.0,668.9 L289.3,669.1 L289.6,669.3 L289.9,669.4 L290.3,669.6 L290.6,669.7 L290.9,669.8 L291.2,669.9 L291.5,670.0 L291.7,670.1 L292.0,670.1 L292.3,670.2 L292.6,670.2 L292.9,670.2 L293.1,670.2" stroke="#86aec8" stroke-width="2.3"/><path d="M309.9,647.8 L310.2,647.8 L310.5,647.8 L310.7,647.9 L311.0,647.9 L311.3,648.0 L311.6,648.1 L311.9,648.2 L312.2,648.3 L312.5,648.4 L312.8,648.6 L313.1,648.7 L313.5,648.9 L313.8,649.1 L314.1,649.3 L314.4,649.5 L314.8,649.7 L315.1,650.0 L315.4,650.2 L315.8,650.5 L316.1,650.7 L316.5,651.0 L316.8,651.3 L317.2,651.6 L317.5,651.9 L317.9,652.3 L318.2,652.6 L318.6,653.0 L319.0,653.3 L319.3,653.7 L319.7,654.0 L320.1,654.4 L320.5,654.8 L320.8,655.2 L321.2,655.6 L321.6,656.0 L322.0,656.4 L322.3,656.8 L322.7,657.2 L323.1,657.6 L323.5,658.0 L323.9,658.4 L324.2,658.8 L324.6,659.3 L325.0,659.7 L325.4,660.1 L325.8,660.5 L326.2,660.9 L326.5,661.3 L326.9,661.7 L327.3,662.1 L327.7,662.5 L328.0,662.9 L328.4,663.3 L328.8,663.7 L329.2,664.0 L329.5,664.4 L329.9,664.8 L330.3,665.1 L330.6,665.5 L331.0,665.8 L331.4,666.1 L331.7,666.4 L332.1,666.7 L332.4,667.0 L332.8,667.3 L333.1,667.6 L333.4,667.9 L333.8,668.1 L334.1,668.3 L334.4,668.6 L334.8,668.8 L335.1,669.0 L335.4,669.1 L335.7,669.3 L336.0,669.5 L336.4,669.6 L336.7,669.7 L337.0,669.8 L337.3,669.9 L337.5,670.0 L337.8,670.1 L338.1,670.1 L338.4,670.2 L338.7,670.2 L339.0,670.2" stroke="#1e252b" stroke-width="5"/><path d="M309.9,647.8 L310.2,647.8 L310.5,647.8 L310.7,647.9 L311.0,647.9 L311.3,648.0 L311.6,648.1 L311.9,648.2 L312.2,648.3 L312.5,648.4 L312.8,648.6 L313.1,648.7 L313.5,648.9 L313.8,649.1 L314.1,649.3 L314.4,649.5 L314.8,649.7 L315.1,650.0 L315.4,650.2 L315.8,650.5 L316.1,650.7 L316.5,651.0 L316.8,651.3 L317.2,651.6 L317.5,651.9 L317.9,652.3 L318.2,652.6 L318.6,653.0 L319.0,653.3 L319.3,653.7 L319.7,654.0 L320.1,654.4 L320.5,654.8 L320.8,655.2 L321.2,655.6 L321.6,656.0 L322.0,656.4 L322.3,656.8 L322.7,657.2 L323.1,657.6 L323.5,658.0 L323.9,658.4 L324.2,658.8 L324.6,659.3 L325.0,659.7 L325.4,660.1 L325.8,660.5 L326.2,660.9 L326.5,661.3 L326.9,661.7 L327.3,662.1 L327.7,662.5 L328.0,662.9 L328.4,663.3 L328.8,663.7 L329.2,664.0 L329.5,664.4 L329.9,664.8 L330.3,665.1 L330.6,665.5 L331.0,665.8 L331.4,666.1 L331.7,666.4 L332.1,666.7 L332.4,667.0 L332.8,667.3 L333.1,667.6 L333.4,667.9 L333.8,668.1 L334.1,668.3 L334.4,668.6 L334.8,668.8 L335.1,669.0 L335.4,669.1 L335.7,669.3 L336.0,669.5 L336.4,669.6 L336.7,669.7 L337.0,669.8 L337.3,669.9 L337.5,670.0 L337.8,670.1 L338.1,670.1 L338.4,670.2 L338.7,670.2 L339.0,670.2" stroke="#86aec8" stroke-width="2.3"/></g>
<ellipse cx="142.4" cy="633.3" rx="18.4" ry="8.6" fill="url(#gPur)" stroke="#2c2a30" stroke-width="1.6"/>
<ellipse cx="179.2" cy="638.1" rx="17.5" ry="9.5" fill="url(#gCy)" stroke="#2c2a30" stroke-width="1.6"/>
<ellipse cx="126.8" cy="646.8" rx="18.4" ry="9.2" fill="url(#gBl)" stroke="#2c2a30" stroke-width="1.6"/>
<ellipse cx="160.8" cy="644.0" rx="18.4" ry="8.7" fill="url(#gOr)" stroke="#2c2a30" stroke-width="1.6"/>
<defs>
<linearGradient id="gSynL" x1="0" y1="0" x2="1" y2="0"><stop offset="0" stop-color="#ffffff"/><stop offset="0.3" stop-color="#c9dff2"/><stop offset="1" stop-color="#5c9fd4"/></linearGradient>
<linearGradient id="gSynR" x1="1" y1="0" x2="0" y2="0"><stop offset="0" stop-color="#ffffff"/><stop offset="0.3" stop-color="#c9dff2"/><stop offset="1" stop-color="#5c9fd4"/></linearGradient>
<radialGradient id="gMitoIn" cx="0.5" cy="0.5" r="0.6"><stop offset="0" stop-color="#fde3a6"/><stop offset="1" stop-color="#f6c45e"/></radialGradient>
</defs>
<path d="M431.7,660.9 C433.2,660.6 437.9,661.6 440.8,659.1 C443.7,656.6 446.0,649.1 449.2,645.8 C452.4,642.5 457.2,639.5 460.2,639.1 C463.2,638.7 465.5,640.4 467.4,643.3 C469.3,646.2 470.7,652.2 471.7,656.7 C472.7,661.2 473.5,665.6 473.5,670.0 C473.5,674.4 472.7,679.3 471.7,683.3 C470.7,687.3 469.3,691.8 467.4,694.2 C465.5,696.6 463.0,698.3 460.2,697.9 C457.4,697.5 453.7,695.2 450.5,691.8 C447.3,688.4 443.9,680.0 440.8,677.3 C437.7,674.6 433.2,675.8 431.7,675.5 z" fill="url(#gSynL)" stroke="none"/><path d="M431.7,660.9 C433.2,660.6 437.9,661.6 440.8,659.1 C443.7,656.6 446.0,649.1 449.2,645.8 C452.4,642.5 457.2,639.5 460.2,639.1 C463.2,638.7 465.5,640.4 467.4,643.3 C469.3,646.2 470.7,652.2 471.7,656.7 C472.7,661.2 473.5,665.6 473.5,670.0 C473.5,674.4 472.7,679.3 471.7,683.3 C470.7,687.3 469.3,691.8 467.4,694.2 C465.5,696.6 463.0,698.3 460.2,697.9 C457.4,697.5 453.7,695.2 450.5,691.8 C447.3,688.4 443.9,680.0 440.8,677.3 C437.7,674.6 433.2,675.8 431.7,675.5" fill="none" stroke="#94c6e8" stroke-width="3.6"/><path d="M431.7,660.9 C433.2,660.6 437.9,661.6 440.8,659.1 C443.7,656.6 446.0,649.1 449.2,645.8 C452.4,642.5 457.2,639.5 460.2,639.1 C463.2,638.7 465.5,640.4 467.4,643.3 C469.3,646.2 470.7,652.2 471.7,656.7 C472.7,661.2 473.5,665.6 473.5,670.0 C473.5,674.4 472.7,679.3 471.7,683.3 C470.7,687.3 469.3,691.8 467.4,694.2 C465.5,696.6 463.0,698.3 460.2,697.9 C457.4,697.5 453.7,695.2 450.5,691.8 C447.3,688.4 443.9,680.0 440.8,677.3 C437.7,674.6 433.2,675.8 431.7,675.5" fill="none" stroke="#3a84bb" stroke-width="1.6" stroke-dasharray="1.3 1.2"/>
<path d="M521.3,660.9 C519.8,660.6 515.1,661.6 512.2,659.1 C509.3,656.6 507.0,649.1 503.8,645.8 C500.6,642.5 495.8,639.5 492.8,639.1 C489.8,638.7 487.5,640.4 485.6,643.3 C483.7,646.2 482.3,652.2 481.3,656.7 C480.3,661.2 479.5,665.6 479.5,670.0 C479.5,674.4 480.3,679.3 481.3,683.3 C482.3,687.3 483.7,691.8 485.6,694.2 C487.5,696.6 490.0,698.3 492.8,697.9 C495.6,697.5 499.3,695.2 502.5,691.8 C505.7,688.4 509.1,680.0 512.2,677.3 C515.3,674.6 519.8,675.8 521.3,675.5 z" fill="url(#gSynR)" stroke="none"/><path d="M521.3,660.9 C519.8,660.6 515.1,661.6 512.2,659.1 C509.3,656.6 507.0,649.1 503.8,645.8 C500.6,642.5 495.8,639.5 492.8,639.1 C489.8,638.7 487.5,640.4 485.6,643.3 C483.7,646.2 482.3,652.2 481.3,656.7 C480.3,661.2 479.5,665.6 479.5,670.0 C479.5,674.4 480.3,679.3 481.3,683.3 C482.3,687.3 483.7,691.8 485.6,694.2 C487.5,696.6 490.0,698.3 492.8,697.9 C495.6,697.5 499.3,695.2 502.5,691.8 C505.7,688.4 509.1,680.0 512.2,677.3 C515.3,674.6 519.8,675.8 521.3,675.5" fill="none" stroke="#94c6e8" stroke-width="3.6"/><path d="M521.3,660.9 C519.8,660.6 515.1,661.6 512.2,659.1 C509.3,656.6 507.0,649.1 503.8,645.8 C500.6,642.5 495.8,639.5 492.8,639.1 C489.8,638.7 487.5,640.4 485.6,643.3 C483.7,646.2 482.3,652.2 481.3,656.7 C480.3,661.2 479.5,665.6 479.5,670.0 C479.5,674.4 480.3,679.3 481.3,683.3 C482.3,687.3 483.7,691.8 485.6,694.2 C487.5,696.6 490.0,698.3 492.8,697.9 C495.6,697.5 499.3,695.2 502.5,691.8 C505.7,688.4 509.1,680.0 512.2,677.3 C515.3,674.6 519.8,675.8 521.3,675.5" fill="none" stroke="#3a84bb" stroke-width="1.6" stroke-dasharray="1.3 1.2"/>
<path d="M455.9,653 L492.9,689.4 M492.3,653 L455.9,689.4" stroke="#c4303c" stroke-width="2.6"/>
<ellipse cx="615.3" cy="666.3" rx="45.5" ry="25.8" fill="#b7a888" stroke="#4a4030" stroke-width="2"/><path d="M576.50,666.80 A38.8,19.2 0 0 1 585.30,654.62 L585.30,668.10 A2.1,2.1 0 0 0 589.50,668.10 L589.50,652.46 A38.8,19.2 0 0 1 603.50,648.51 L603.50,665.60 A2.1,2.1 0 0 0 607.70,665.60 L607.70,647.97 A38.8,19.2 0 0 1 624.70,648.17 L624.70,665.00 A2.1,2.1 0 0 0 628.90,665.00 L628.90,648.82 A38.8,19.2 0 0 1 645.90,655.00 L645.90,661.40 A2.1,2.1 0 0 0 650.10,661.40 L650.10,658.31 A38.8,19.2 0 0 1 654.10,666.80 A38.8,19.2 0 0 1 639.80,681.69 L639.80,659.50 A2.1,2.1 0 0 0 635.60,659.50 L635.60,683.16 A38.8,19.2 0 0 1 618.00,685.95 L618.00,658.90 A2.1,2.1 0 0 0 613.80,658.90 L613.80,685.99 A38.8,19.2 0 0 1 598.00,683.99 L598.00,660.10 A2.1,2.1 0 0 0 593.80,660.10 L593.80,682.78 A38.8,19.2 0 0 1 576.50,666.80 z" fill="url(#gMitoIn)" stroke="#55482c" stroke-width="1.7" stroke-linejoin="round"/>
<g fill="none" stroke="#1f1f22" stroke-width="3" stroke-linecap="round" stroke-linejoin="round">
<path d="M721.8,658.1 C721.3,656.5 719.4,651.0 718.6,648.6 C717.8,646.3 718.4,645.2 717.1,643.9 C715.7,642.6 712.3,641.4 710.8,640.8 C709.2,640.1 708.1,640.1 707.6,640.0"/>
<path d="M717.1,643.9 C716.7,642.6 714.7,638.1 714.7,636.0 C714.7,633.9 716.7,632.1 717.1,631.3"/>
<path d="M713.6,639.5 C713.4,638.8 712.5,636.0 712.3,635.2"/>
<path d="M732.8,656.5 C733.2,654.7 734.4,648.6 735.2,645.5 C736.0,642.3 737.0,639.8 737.5,637.6 C738.1,635.4 738.2,633.0 738.3,632.1"/>
<path d="M737.5,637.6 C738.2,637.1 740.8,635.0 741.5,634.5"/>
<path d="M717.1,669.9 C716.0,669.9 711.8,669.9 710.8,669.9"/>
<path d="M703.2,667.2 C704.2,667.4 708.1,667.4 709.5,668.2 C710.9,668.9 711.3,670.5 711.4,671.6 C711.4,672.8 711.2,674.4 709.8,675.1 C708.4,675.8 704.3,675.6 703.2,675.7"/>
<path d="M722.6,680.9 C721.7,682.4 719.2,687.4 717.1,689.6 C715.0,691.8 711.5,692.5 710.0,694.3 C708.4,696.2 708.0,699.6 707.6,700.6"/>
<path d="M713.9,692.0 C714.0,693.2 715.0,697.4 714.7,699.1 C714.4,700.8 712.7,701.7 712.3,702.2"/>
<path d="M732.0,682.5 C732.8,684.0 736.4,689.2 736.8,691.2 C737.2,693.2 734.8,693.8 734.4,694.3"/>
<path d="M736.8,691.2 C737.4,691.4 740.0,692.5 740.7,692.8"/>
</g>
<path d="M715.2,669.4 C715.2,667.8 717.9,661.8 718.6,660.5 C719.4,659.1 721.6,656.5 722.6,656.2 C723.5,655.9 727.0,657.1 728.1,657.0 C729.1,656.9 732.4,655.0 733.1,655.4 C733.9,655.9 734.8,660.5 735.3,661.6 C735.9,662.6 733.7,665.1 738.8,665.5 C743.9,665.9 781.6,664.8 786.4,665.5 C791.2,666.2 791.2,671.7 786.4,672.4 C781.6,673.2 744.0,672.3 738.8,672.9 C733.6,673.5 735.4,677.3 734.7,678.3 C734.0,679.3 733.0,682.6 732.2,683.0 C731.4,683.3 727.6,681.7 726.5,681.7 C725.4,681.8 722.3,684.1 721.5,683.6 C720.6,683.2 718.5,678.7 717.8,677.3 C717.2,675.9 715.1,671.1 715.2,669.4z" fill="#aecce6" stroke="#26323c" stroke-width="1.6"/>
<circle cx="728.9" cy="670" r="5.2" fill="#f7c860" stroke="#3a3020" stroke-width="1.4"/>
<path d="M786,669 C798,669 802,656.5 812,656.5" fill="none" stroke="#26323c" stroke-width="4"/>
<path d="M786,669 C798,669 802,656.5 812,656.5" fill="none" stroke="#9cc0dc" stroke-width="1.8"/>
<path d="M811,656.5 L818.5,652.0 L818.5,661.0 z" fill="#aecce6" stroke="#26323c" stroke-width="1.4"/>
<path d="M786,669 C798,669 802,669.9 812,669.9" fill="none" stroke="#26323c" stroke-width="4"/>
<path d="M786,669 C798,669 802,669.9 812,669.9" fill="none" stroke="#9cc0dc" stroke-width="1.8"/>
<path d="M811,669.9 L818.5,665.4 L818.5,674.4 z" fill="#aecce6" stroke="#26323c" stroke-width="1.4"/>
<path d="M786,669 C798,669 802,683.3 812,683.3" fill="none" stroke="#26323c" stroke-width="4"/>
<path d="M786,669 C798,669 802,683.3 812,683.3" fill="none" stroke="#9cc0dc" stroke-width="1.8"/>
<path d="M811,683.3 L818.5,678.8 L818.5,687.8 z" fill="#aecce6" stroke="#26323c" stroke-width="1.4"/>
<path d="M738.3,660.9 H781" stroke="#3a3a40" stroke-width="1.8"/><path d="M784.0,660.9 L778.0,662.9 L778.5,660.9 L778.0,658.9z" fill="#24221f"/>
<path d="M785.6,679.4 H743" stroke="#3a3a40" stroke-width="1.8"/><path d="M739.5,679.4 L745.5,677.4 L745.0,679.4 L745.5,681.4z" fill="#24221f"/>
<path d="M746.2,653.4 L776.9,684.9 M776.9,653.4 L746.2,684.9" stroke="#d0303a" stroke-width="2.6"/>
<text class="b" x="158.5" y="25" textLength="137" lengthAdjust="spacingAndGlyphs"><tspan font-style="italic">HTT</tspan> translation</text>
<text class="b" x="529" y="24.7" textLength="157" lengthAdjust="spacingAndGlyphs">Native huntingtin</text>
<text class="b" x="96.8" y="203.3" text-anchor="middle" textLength="94.5" lengthAdjust="spacingAndGlyphs">HTT exon1</text>
<text class="b" x="99.3" y="225.1" text-anchor="middle" textLength="86.5" lengthAdjust="spacingAndGlyphs">and other</text>
<text class="b" x="99.5" y="245.4" text-anchor="middle" textLength="90.2" lengthAdjust="spacingAndGlyphs">fragments</text>
<text class="b" x="486.7" y="364.5" text-anchor="middle" textLength="110.3" lengthAdjust="spacingAndGlyphs">Cytoplasmic</text>
<text class="b" x="487" y="386.3" text-anchor="middle" textLength="141" lengthAdjust="spacingAndGlyphs">oligomerization</text>
<text class="b" x="486.7" y="408.5" text-anchor="middle" textLength="146.7" lengthAdjust="spacingAndGlyphs">and aggregation</text>
<text class="b" x="760.6" y="367.5" text-anchor="middle" textLength="111.3" lengthAdjust="spacingAndGlyphs">Cytoplasmic</text>
<text class="b" x="760.5" y="389.4" text-anchor="middle" textLength="78.5" lengthAdjust="spacingAndGlyphs">inclusion</text>
<text class="b" x="124.5" y="519.3" text-anchor="middle" textLength="107.9" lengthAdjust="spacingAndGlyphs">Intranuclear</text>
<text class="b" x="125" y="541.5" text-anchor="middle" textLength="78" lengthAdjust="spacingAndGlyphs">inclusion</text>
<text class="b" x="319.6" y="519.1" text-anchor="middle" textLength="68.8" lengthAdjust="spacingAndGlyphs">Nuclear</text>
<text class="b" x="320.2" y="540.8" text-anchor="middle" textLength="142.7" lengthAdjust="spacingAndGlyphs">oligomerization</text>
<text class="b" x="319.6" y="561.7" text-anchor="middle" textLength="146.6" lengthAdjust="spacingAndGlyphs">and aggregation</text>
<text class="b" x="224.7" y="751.7" text-anchor="middle" textLength="70.9" lengthAdjust="spacingAndGlyphs">Nucleus</text>
<text class="b" x="473.5" y="716.8" text-anchor="middle" textLength="79.6" lengthAdjust="spacingAndGlyphs">Synaptic</text>
<text class="b" x="473.2" y="738.3" text-anchor="middle" textLength="104.5" lengthAdjust="spacingAndGlyphs">dysfunction</text>
<text class="b" x="614.6" y="716.8" text-anchor="middle" textLength="126" lengthAdjust="spacingAndGlyphs">Mitochondrial</text>
<text class="b" x="615.2" y="738.3" text-anchor="middle" textLength="105.6" lengthAdjust="spacingAndGlyphs">toxicity and</text>
<text class="b" x="614" y="760.5" text-anchor="middle" textLength="157" lengthAdjust="spacingAndGlyphs">energy imbalance</text>
<text class="b" x="765.3" y="716.8" text-anchor="middle" textLength="65" lengthAdjust="spacingAndGlyphs">Axonal</text>
<text class="b" x="764.8" y="738.3" text-anchor="middle" textLength="86" lengthAdjust="spacingAndGlyphs">transport</text>
<text class="b" x="764.4" y="760.5" text-anchor="middle" textLength="101.6" lengthAdjust="spacingAndGlyphs">impairment</text>
<text class="r" x="599" y="136.8" text-anchor="end" textLength="92" lengthAdjust="spacingAndGlyphs">Proteolytic</text>
<text class="r" x="599" y="158.6" text-anchor="end" textLength="74.2" lengthAdjust="spacingAndGlyphs">cleavage</text>
<text class="r" x="433.1" y="215.7" text-anchor="middle" textLength="60.8" lengthAdjust="spacingAndGlyphs">Protein</text>
<text class="r" x="433.2" y="237.5" text-anchor="middle" textLength="102.5" lengthAdjust="spacingAndGlyphs">aggregation</text>
<text class="r" x="626.5" y="238.2" textLength="119" lengthAdjust="spacingAndGlyphs">Impairment of</text>
<text class="r" x="626.3" y="258.6" textLength="102" lengthAdjust="spacingAndGlyphs">proteostasis</text>
<text class="r" x="626.3" y="280.4" textLength="69.2" lengthAdjust="spacingAndGlyphs">network</text>
<text class="r" x="168.7" y="304.6" text-anchor="end" textLength="64.8" lengthAdjust="spacingAndGlyphs">Nuclear</text>
<text class="r" x="168.7" y="326.8" text-anchor="end" textLength="110.5" lengthAdjust="spacingAndGlyphs">translocation</text>
<text class="r" x="228.9" y="394.3" textLength="60.4" lengthAdjust="spacingAndGlyphs">Protein</text>
<text class="r" x="228.9" y="416.1" textLength="103" lengthAdjust="spacingAndGlyphs">aggregation</text>
<text class="r" x="630.6" y="492.2" textLength="118.6" lengthAdjust="spacingAndGlyphs">Impairment of</text>
<text class="r" x="630.6" y="514.5" textLength="101.9" lengthAdjust="spacingAndGlyphs">proteostasis</text>
<text class="r" x="630.6" y="536.7" textLength="68.8" lengthAdjust="spacingAndGlyphs">network</text>
<text class="r" x="264.2" y="616.4" textLength="112.5" lengthAdjust="spacingAndGlyphs">Dysregulated</text>
<text class="r" x="264.2" y="636.8" textLength="109.4" lengthAdjust="spacingAndGlyphs">transcription</text>
<text class="r" x="257.1" y="168.7" textLength="35.6" lengthAdjust="spacingAndGlyphs">PRD</text>
<text class="r" x="188" y="140.4" textLength="48" lengthAdjust="spacingAndGlyphs">PolyQ</text>
<text class="r" x="754.4" y="73.8" textLength="57.2" lengthAdjust="spacingAndGlyphs">COOH</text>
<text class="r" x="141.5" y="95.9" textLength="31.8" lengthAdjust="spacingAndGlyphs">HTT</text>
<text class="r" x="175" y="87.8" style="font-size:11.5px" textLength="13.5" lengthAdjust="spacingAndGlyphs">NT</text>
<text class="r" x="410.6" y="25" textLength="25.8" lengthAdjust="spacingAndGlyphs">NH</text>
<text class="r" x="437" y="31.4" style="font-size:10.5px;font-style:italic">2</text>
</svg>
</body></html>
